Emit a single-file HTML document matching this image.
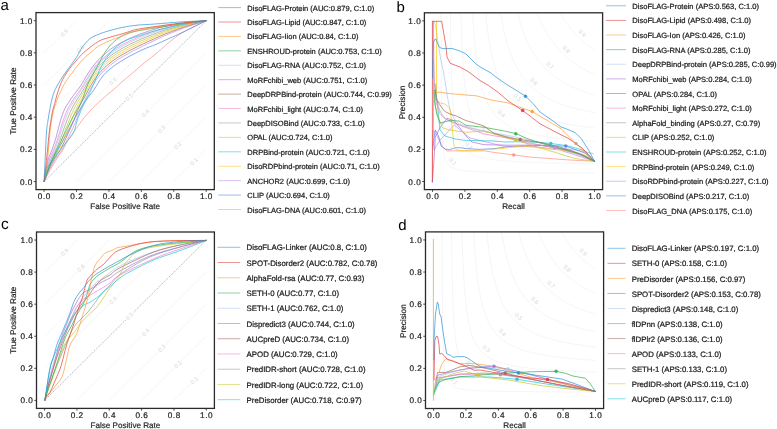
<!DOCTYPE html>
<html><head><meta charset="utf-8"><style>
html,body{margin:0;padding:0;background:#fff;}
body{width:777px;height:429px;overflow:hidden;font-family:"Liberation Sans", sans-serif;}
svg{display:block;text-rendering:geometricPrecision;filter:blur(0.3px);}
</style></head><body>
<svg width="777" height="429" viewBox="0 0 777 429" font-family='Liberation Sans, sans-serif'>
<rect width="777" height="429" fill="#fff"/>
<line x1="173.78" y1="181.55" x2="206.2" y2="149.37" stroke="#f2f2f2" stroke-width="0.8"/>
<text x="194.04" y="161.44" font-size="5.8" fill="#d4d4d4" text-anchor="middle" transform="rotate(-45 194.04 161.44)" dy="2.0" stroke="#fff" stroke-width="2.6" paint-order="stroke">0.1</text>
<line x1="141.36" y1="181.55" x2="206.2" y2="117.19" stroke="#f2f2f2" stroke-width="0.8"/>
<text x="177.83" y="145.35" font-size="5.8" fill="#d4d4d4" text-anchor="middle" transform="rotate(-45 177.83 145.35)" dy="2.0" stroke="#fff" stroke-width="2.6" paint-order="stroke">0.2</text>
<line x1="108.94" y1="181.55" x2="206.2" y2="85.01" stroke="#f2f2f2" stroke-width="0.8"/>
<text x="161.62" y="129.26" font-size="5.8" fill="#d4d4d4" text-anchor="middle" transform="rotate(-45 161.62 129.26)" dy="2.0" stroke="#fff" stroke-width="2.6" paint-order="stroke">0.3</text>
<line x1="76.52" y1="181.55" x2="206.2" y2="52.83" stroke="#f2f2f2" stroke-width="0.8"/>
<text x="145.41" y="113.17" font-size="5.8" fill="#d4d4d4" text-anchor="middle" transform="rotate(-45 145.41 113.17)" dy="2.0" stroke="#fff" stroke-width="2.6" paint-order="stroke">0.4</text>
<line x1="44.1" y1="149.37" x2="173.78" y2="20.65" stroke="#f2f2f2" stroke-width="0.8"/>
<text x="112.99" y="80.99" font-size="5.8" fill="#d4d4d4" text-anchor="middle" transform="rotate(-45 112.99 80.99)" dy="2.0" stroke="#fff" stroke-width="2.6" paint-order="stroke">0.6</text>
<line x1="44.1" y1="117.19" x2="141.36" y2="20.65" stroke="#f2f2f2" stroke-width="0.8"/>
<text x="96.78" y="64.9" font-size="5.8" fill="#d4d4d4" text-anchor="middle" transform="rotate(-45 96.78 64.9)" dy="2.0" stroke="#fff" stroke-width="2.6" paint-order="stroke">0.7</text>
<line x1="44.1" y1="85.01" x2="108.94" y2="20.65" stroke="#f2f2f2" stroke-width="0.8"/>
<text x="80.57" y="48.8" font-size="5.8" fill="#d4d4d4" text-anchor="middle" transform="rotate(-45 80.57 48.8)" dy="2.0" stroke="#fff" stroke-width="2.6" paint-order="stroke">0.8</text>
<line x1="44.1" y1="52.83" x2="76.52" y2="20.65" stroke="#f2f2f2" stroke-width="0.8"/>
<text x="64.37" y="32.71" font-size="5.8" fill="#d4d4d4" text-anchor="middle" transform="rotate(-45 64.37 32.71)" dy="2.0" stroke="#fff" stroke-width="2.6" paint-order="stroke">0.9</text>
<line x1="173.97" y1="400.38" x2="206.31" y2="368.31" stroke="#f2f2f2" stroke-width="0.8"/>
<text x="194.18" y="380.34" font-size="5.8" fill="#d4d4d4" text-anchor="middle" transform="rotate(-45 194.18 380.34)" dy="2.0" stroke="#fff" stroke-width="2.6" paint-order="stroke">0.1</text>
<line x1="141.62" y1="400.38" x2="206.31" y2="336.24" stroke="#f2f2f2" stroke-width="0.8"/>
<text x="178.01" y="364.3" font-size="5.8" fill="#d4d4d4" text-anchor="middle" transform="rotate(-45 178.01 364.3)" dy="2.0" stroke="#fff" stroke-width="2.6" paint-order="stroke">0.2</text>
<line x1="109.28" y1="400.38" x2="206.31" y2="304.16" stroke="#f2f2f2" stroke-width="0.8"/>
<text x="161.84" y="348.26" font-size="5.8" fill="#d4d4d4" text-anchor="middle" transform="rotate(-45 161.84 348.26)" dy="2.0" stroke="#fff" stroke-width="2.6" paint-order="stroke">0.3</text>
<line x1="76.93" y1="400.38" x2="206.31" y2="272.09" stroke="#f2f2f2" stroke-width="0.8"/>
<text x="145.67" y="332.23" font-size="5.8" fill="#d4d4d4" text-anchor="middle" transform="rotate(-45 145.67 332.23)" dy="2.0" stroke="#fff" stroke-width="2.6" paint-order="stroke">0.4</text>
<line x1="44.59" y1="368.31" x2="173.97" y2="240.02" stroke="#f2f2f2" stroke-width="0.8"/>
<text x="113.32" y="300.15" font-size="5.8" fill="#d4d4d4" text-anchor="middle" transform="rotate(-45 113.32 300.15)" dy="2.0" stroke="#fff" stroke-width="2.6" paint-order="stroke">0.6</text>
<line x1="44.59" y1="336.24" x2="141.62" y2="240.02" stroke="#f2f2f2" stroke-width="0.8"/>
<text x="97.15" y="284.12" font-size="5.8" fill="#d4d4d4" text-anchor="middle" transform="rotate(-45 97.15 284.12)" dy="2.0" stroke="#fff" stroke-width="2.6" paint-order="stroke">0.7</text>
<line x1="44.59" y1="304.16" x2="109.28" y2="240.02" stroke="#f2f2f2" stroke-width="0.8"/>
<text x="80.97" y="268.08" font-size="5.8" fill="#d4d4d4" text-anchor="middle" transform="rotate(-45 80.97 268.08)" dy="2.0" stroke="#fff" stroke-width="2.6" paint-order="stroke">0.8</text>
<line x1="44.59" y1="272.09" x2="76.93" y2="240.02" stroke="#f2f2f2" stroke-width="0.8"/>
<text x="64.8" y="252.05" font-size="5.8" fill="#d4d4d4" text-anchor="middle" transform="rotate(-45 64.8 252.05)" dy="2.0" stroke="#fff" stroke-width="2.6" paint-order="stroke">0.9</text>
<path d="M441,12.8 L441.22,69.26 L441.67,112.68 L442.28,134.71 L443.02,146.63 L443.89,153.71 L444.86,158.25 L445.94,161.34 L447.11,163.53 L448.38,165.16 L449.74,166.4 L451.17,167.37 L452.69,168.14 L454.29,168.77 L455.96,169.29 L457.71,169.72 L459.53,170.09 L461.41,170.4 L463.37,170.67 L465.39,170.9 L467.47,171.1 L469.62,171.28 L471.83,171.44 L474.1,171.58 L476.44,171.71 L478.83,171.82 L481.28,171.93 L483.78,172.02 L486.35,172.1 L488.97,172.18 L491.64,172.25 L494.37,172.32 L497.15,172.38 L499.98,172.43 L502.87,172.48 L505.8,172.53 L508.79,172.57 L511.83,172.61 L514.92,172.65 L518.05,172.69 L521.24,172.72 L524.47,172.75 L527.75,172.78 L531.08,172.81 L534.45,172.83 L537.88,172.86 L541.34,172.88 L544.86,172.9 L548.41,172.92 L552.02,172.94 L555.66,172.96 L559.35,172.98 L563.09,173 L566.87,173.01 L570.69,173.03 L574.55,173.04 L578.46,173.06 L582.41,173.07 L586.4,173.08 L590.43,173.09 L594.5,173.1" fill="none" stroke="#f2f2f2" stroke-width="0.8"/>
<path d="M450.41,12.8 L450.61,29.25 L451.03,53.71 L451.6,75.68 L452.3,93.11 L453.11,106.43 L454.02,116.59 L455.04,124.4 L456.14,130.5 L457.33,135.32 L458.6,139.19 L459.95,142.35 L461.38,144.95 L462.88,147.12 L464.45,148.96 L466.09,150.51 L467.79,151.85 L469.56,153.01 L471.4,154.02 L473.29,154.9 L475.25,155.68 L477.27,156.38 L479.34,156.99 L481.48,157.55 L483.67,158.04 L485.91,158.49 L488.21,158.9 L490.56,159.27 L492.97,159.61 L495.43,159.92 L497.94,160.2 L500.5,160.46 L503.11,160.71 L505.77,160.93 L508.48,161.14 L511.23,161.33 L514.04,161.51 L516.89,161.67 L519.79,161.83 L522.73,161.97 L525.72,162.11 L528.76,162.24 L531.84,162.36 L534.96,162.47 L538.13,162.58 L541.34,162.68 L544.6,162.78 L547.9,162.87 L551.24,162.95 L554.62,163.03 L558.04,163.11 L561.51,163.18 L565.01,163.25 L568.56,163.32 L572.15,163.38 L575.77,163.44 L579.44,163.5 L583.15,163.55 L586.89,163.61 L590.68,163.66 L594.5,163.71" fill="none" stroke="#f2f2f2" stroke-width="0.8"/>
<path d="M460.85,12.8 L461.04,19.31 L461.43,30.89 L461.96,43.86 L462.6,56.53 L463.36,68.12 L464.21,78.36 L465.15,87.26 L466.17,94.93 L467.27,101.51 L468.45,107.18 L469.7,112.05 L471.03,116.28 L472.42,119.94 L473.87,123.14 L475.39,125.95 L476.98,128.42 L478.62,130.6 L480.32,132.55 L482.08,134.28 L483.89,135.83 L485.77,137.23 L487.69,138.49 L489.67,139.63 L491.7,140.67 L493.78,141.61 L495.92,142.48 L498.1,143.27 L500.33,144 L502.61,144.67 L504.94,145.28 L507.31,145.86 L509.73,146.39 L512.2,146.88 L514.71,147.34 L517.27,147.77 L519.87,148.17 L522.52,148.54 L525.2,148.89 L527.94,149.22 L530.71,149.53 L533.52,149.82 L536.38,150.09 L539.28,150.35 L542.22,150.6 L545.2,150.83 L548.22,151.05 L551.27,151.25 L554.37,151.45 L557.51,151.64 L560.68,151.82 L563.9,151.98 L567.15,152.15 L570.44,152.3 L573.77,152.45 L577.13,152.59 L580.53,152.72 L583.97,152.85 L587.44,152.97 L590.95,153.09 L594.5,153.2" fill="none" stroke="#f2f2f2" stroke-width="0.8"/>
<path d="M472.52,12.8 L472.7,15.85 L473.05,21.65 L473.53,28.79 L474.13,36.52 L474.81,44.34 L475.59,51.97 L476.44,59.2 L477.38,65.95 L478.39,72.18 L479.46,77.89 L480.6,83.1 L481.81,87.83 L483.08,92.13 L484.41,96.03 L485.8,99.58 L487.24,102.8 L488.74,105.73 L490.29,108.4 L491.9,110.84 L493.56,113.07 L495.26,115.12 L497.02,116.99 L498.83,118.72 L500.68,120.31 L502.58,121.78 L504.53,123.13 L506.52,124.39 L508.56,125.56 L510.64,126.65 L512.76,127.66 L514.93,128.6 L517.14,129.48 L519.39,130.3 L521.68,131.08 L524.02,131.8 L526.39,132.48 L528.8,133.12 L531.26,133.72 L533.75,134.29 L536.28,134.83 L538.85,135.33 L541.46,135.81 L544.1,136.27 L546.78,136.7 L549.5,137.11 L552.26,137.5 L555.05,137.87 L557.88,138.22 L560.74,138.55 L563.64,138.87 L566.57,139.17 L569.54,139.46 L572.54,139.74 L575.58,140.01 L578.65,140.26 L581.75,140.51 L584.89,140.74 L588.06,140.96 L591.26,141.18 L594.5,141.38" fill="none" stroke="#f2f2f2" stroke-width="0.8"/>
<path d="M485.66,12.8 L485.81,14.36 L486.13,17.42 L486.56,21.35 L487.09,25.85 L487.7,30.67 L488.39,35.64 L489.16,40.65 L489.99,45.59 L490.89,50.4 L491.85,55.04 L492.87,59.47 L493.94,63.68 L495.08,67.67 L496.26,71.43 L497.5,74.96 L498.79,78.28 L500.13,81.39 L501.51,84.31 L502.95,87.04 L504.42,89.59 L505.95,91.99 L507.52,94.23 L509.13,96.34 L510.78,98.31 L512.48,100.16 L514.21,101.9 L515.99,103.53 L517.81,105.06 L519.67,106.51 L521.56,107.87 L523.5,109.15 L525.47,110.36 L527.48,111.51 L529.52,112.59 L531.6,113.61 L533.72,114.58 L535.88,115.5 L538.07,116.37 L540.29,117.2 L542.55,117.98 L544.84,118.73 L547.17,119.44 L549.53,120.12 L551.92,120.76 L554.35,121.38 L556.81,121.96 L559.3,122.52 L561.82,123.06 L564.37,123.57 L566.96,124.06 L569.58,124.53 L572.23,124.98 L574.91,125.41 L577.61,125.83 L580.35,126.22 L583.12,126.6 L585.92,126.97 L588.75,127.32 L591.61,127.66 L594.5,127.99" fill="none" stroke="#f2f2f2" stroke-width="0.8"/>
<path d="M500.54,12.8 L500.67,13.63 L500.95,15.27 L501.32,17.44 L501.77,19.99 L502.3,22.82 L502.9,25.85 L503.56,29.01 L504.28,32.25 L505.06,35.52 L505.88,38.79 L506.76,42.04 L507.69,45.23 L508.67,48.35 L509.7,51.4 L510.76,54.35 L511.88,57.2 L513.03,59.96 L514.23,62.61 L515.46,65.15 L516.74,67.6 L518.06,69.94 L519.41,72.18 L520.8,74.32 L522.23,76.37 L523.69,78.33 L525.19,80.2 L526.73,81.99 L528.3,83.69 L529.9,85.32 L531.54,86.88 L533.2,88.37 L534.91,89.79 L536.64,91.15 L538.41,92.45 L540.21,93.7 L542.03,94.89 L543.89,96.03 L545.78,97.12 L547.7,98.16 L549.65,99.16 L551.63,100.12 L553.64,101.04 L555.68,101.92 L557.74,102.77 L559.84,103.58 L561.96,104.36 L564.11,105.12 L566.29,105.84 L568.49,106.53 L570.73,107.2 L572.99,107.84 L575.27,108.46 L577.58,109.06 L579.92,109.63 L582.29,110.19 L584.68,110.72 L587.1,111.24 L589.54,111.74 L592.01,112.22 L594.5,112.68" fill="none" stroke="#f2f2f2" stroke-width="0.8"/>
<path d="M517.55,12.8 L517.66,13.23 L517.88,14.11 L518.19,15.27 L518.56,16.67 L518.99,18.25 L519.48,19.98 L520.02,21.83 L520.61,23.77 L521.25,25.78 L521.93,27.85 L522.65,29.95 L523.41,32.07 L524.21,34.2 L525.05,36.33 L525.92,38.45 L526.83,40.56 L527.78,42.63 L528.76,44.68 L529.77,46.69 L530.82,48.67 L531.9,50.6 L533,52.49 L534.14,54.34 L535.31,56.14 L536.51,57.89 L537.74,59.6 L539,61.26 L540.28,62.87 L541.59,64.43 L542.93,65.95 L544.3,67.42 L545.7,68.85 L547.12,70.24 L548.56,71.58 L550.03,72.88 L551.53,74.14 L553.05,75.36 L554.6,76.54 L556.18,77.68 L557.77,78.79 L559.39,79.87 L561.04,80.91 L562.71,81.92 L564.4,82.89 L566.11,83.84 L567.85,84.75 L569.61,85.64 L571.4,86.5 L573.2,87.34 L575.03,88.15 L576.88,88.93 L578.75,89.69 L580.65,90.43 L582.56,91.15 L584.5,91.84 L586.46,92.51 L588.44,93.17 L590.44,93.8 L592.46,94.42 L594.5,95.02" fill="none" stroke="#f2f2f2" stroke-width="0.8"/>
<path d="M537.18,12.8 L537.26,13.01 L537.43,13.45 L537.65,14.03 L537.93,14.74 L538.25,15.54 L538.62,16.44 L539.02,17.41 L539.46,18.45 L539.93,19.55 L540.44,20.7 L540.97,21.88 L541.54,23.11 L542.14,24.36 L542.76,25.64 L543.41,26.93 L544.09,28.24 L544.8,29.56 L545.53,30.89 L546.28,32.22 L547.06,33.55 L547.86,34.88 L548.69,36.2 L549.54,37.52 L550.41,38.83 L551.3,40.13 L552.22,41.41 L553.15,42.68 L554.11,43.94 L555.09,45.18 L556.09,46.41 L557.11,47.61 L558.14,48.8 L559.2,49.97 L560.28,51.12 L561.38,52.26 L562.49,53.37 L563.63,54.46 L564.78,55.53 L565.95,56.59 L567.14,57.62 L568.35,58.63 L569.57,59.63 L570.82,60.6 L572.08,61.56 L573.35,62.49 L574.65,63.41 L575.96,64.31 L577.29,65.19 L578.63,66.05 L580,66.89 L581.37,67.72 L582.77,68.53 L584.18,69.32 L585.61,70.1 L587.05,70.85 L588.51,71.6 L589.98,72.32 L591.47,73.03 L592.98,73.73 L594.5,74.41" fill="none" stroke="#f2f2f2" stroke-width="0.8"/>
<path d="M560.08,12.8 L560.12,12.89 L560.22,13.06 L560.36,13.3 L560.53,13.59 L560.72,13.93 L560.94,14.3 L561.18,14.71 L561.45,15.16 L561.73,15.63 L562.03,16.13 L562.36,16.66 L562.7,17.21 L563.05,17.78 L563.43,18.37 L563.82,18.98 L564.23,19.61 L564.65,20.25 L565.09,20.9 L565.54,21.57 L566.01,22.24 L566.49,22.93 L566.99,23.63 L567.5,24.33 L568.02,25.04 L568.56,25.75 L569.11,26.47 L569.67,27.2 L570.24,27.92 L570.83,28.65 L571.43,29.39 L572.04,30.12 L572.67,30.85 L573.3,31.59 L573.95,32.32 L574.61,33.05 L575.28,33.78 L575.96,34.51 L576.65,35.24 L577.35,35.96 L578.07,36.68 L578.79,37.4 L579.53,38.11 L580.28,38.82 L581.03,39.52 L581.8,40.22 L582.58,40.92 L583.37,41.61 L584.16,42.29 L584.97,42.97 L585.79,43.65 L586.62,44.32 L587.46,44.98 L588.3,45.64 L589.16,46.29 L590.03,46.93 L590.9,47.57 L591.79,48.2 L592.68,48.83 L593.59,49.45 L594.5,50.06" fill="none" stroke="#f2f2f2" stroke-width="0.8"/>
<text x="452.75" y="161.79" font-size="5.8" fill="#d4d4d4" text-anchor="middle" transform="rotate(45 452.75 161.79)" dy="2.0" stroke="#fff" stroke-width="2.6" paint-order="stroke">0.1</text>
<text x="468.95" y="145.72" font-size="5.8" fill="#d4d4d4" text-anchor="middle" transform="rotate(45 468.95 145.72)" dy="2.0" stroke="#fff" stroke-width="2.6" paint-order="stroke">0.2</text>
<text x="485.15" y="129.65" font-size="5.8" fill="#d4d4d4" text-anchor="middle" transform="rotate(45 485.15 129.65)" dy="2.0" stroke="#fff" stroke-width="2.6" paint-order="stroke">0.3</text>
<text x="501.35" y="113.58" font-size="5.8" fill="#d4d4d4" text-anchor="middle" transform="rotate(45 501.35 113.58)" dy="2.0" stroke="#fff" stroke-width="2.6" paint-order="stroke">0.4</text>
<text x="517.55" y="97.5" font-size="5.8" fill="#d4d4d4" text-anchor="middle" transform="rotate(45 517.55 97.5)" dy="2.0" stroke="#fff" stroke-width="2.6" paint-order="stroke">0.5</text>
<text x="533.75" y="81.43" font-size="5.8" fill="#d4d4d4" text-anchor="middle" transform="rotate(45 533.75 81.43)" dy="2.0" stroke="#fff" stroke-width="2.6" paint-order="stroke">0.6</text>
<text x="549.95" y="65.36" font-size="5.8" fill="#d4d4d4" text-anchor="middle" transform="rotate(45 549.95 65.36)" dy="2.0" stroke="#fff" stroke-width="2.6" paint-order="stroke">0.7</text>
<text x="566.15" y="49.29" font-size="5.8" fill="#d4d4d4" text-anchor="middle" transform="rotate(45 566.15 49.29)" dy="2.0" stroke="#fff" stroke-width="2.6" paint-order="stroke">0.8</text>
<text x="582.35" y="33.21" font-size="5.8" fill="#d4d4d4" text-anchor="middle" transform="rotate(45 582.35 33.21)" dy="2.0" stroke="#fff" stroke-width="2.6" paint-order="stroke">0.9</text>
<path d="M442.1,231.9 L442.31,288.3 L442.76,331.67 L443.37,353.67 L444.11,365.58 L444.97,372.65 L445.95,377.18 L447.03,380.27 L448.2,382.46 L449.47,384.09 L450.82,385.33 L452.26,386.3 L453.78,387.07 L455.37,387.7 L457.04,388.21 L458.79,388.64 L460.61,389.01 L462.49,389.32 L464.44,389.59 L466.46,389.82 L468.55,390.03 L470.7,390.2 L472.91,390.36 L475.18,390.5 L477.51,390.63 L479.9,390.74 L482.35,390.85 L484.85,390.94 L487.41,391.02 L490.03,391.1 L492.7,391.17 L495.43,391.24 L498.21,391.3 L501.04,391.35 L503.92,391.4 L506.86,391.45 L509.84,391.49 L512.88,391.53 L515.96,391.57 L519.1,391.61 L522.28,391.64 L525.51,391.67 L528.79,391.7 L532.12,391.73 L535.49,391.75 L538.91,391.78 L542.38,391.8 L545.89,391.82 L549.44,391.84 L553.04,391.86 L556.69,391.88 L560.38,391.9 L564.11,391.91 L567.89,391.93 L571.71,391.95 L575.57,391.96 L579.47,391.97 L583.42,391.99 L587.4,392 L591.43,392.01 L595.5,392.02" fill="none" stroke="#f2f2f2" stroke-width="0.8"/>
<path d="M451.49,231.9 L451.7,248.33 L452.11,272.76 L452.68,294.71 L453.38,312.12 L454.19,325.43 L455.11,335.57 L456.12,343.38 L457.22,349.46 L458.41,354.28 L459.68,358.15 L461.03,361.3 L462.46,363.9 L463.96,366.07 L465.52,367.9 L467.16,369.46 L468.87,370.79 L470.64,371.95 L472.47,372.96 L474.37,373.84 L476.32,374.62 L478.34,375.31 L480.41,375.93 L482.55,376.48 L484.73,376.98 L486.98,377.43 L489.28,377.84 L491.63,378.21 L494.03,378.54 L496.49,378.85 L499,379.14 L501.56,379.4 L504.17,379.64 L506.82,379.86 L509.53,380.07 L512.29,380.26 L515.09,380.44 L517.94,380.6 L520.84,380.76 L523.78,380.91 L526.77,381.04 L529.8,381.17 L532.88,381.29 L536,381.4 L539.17,381.51 L542.38,381.61 L545.63,381.71 L548.93,381.8 L552.26,381.88 L555.64,381.96 L559.07,382.04 L562.53,382.11 L566.03,382.18 L569.58,382.25 L573.16,382.31 L576.79,382.37 L580.45,382.43 L584.16,382.48 L587.9,382.54 L591.68,382.59 L595.5,382.63" fill="none" stroke="#f2f2f2" stroke-width="0.8"/>
<path d="M461.93,231.9 L462.12,238.41 L462.51,249.97 L463.04,262.93 L463.68,275.58 L464.44,287.15 L465.28,297.39 L466.22,306.28 L467.25,313.93 L468.35,320.51 L469.53,326.17 L470.78,331.04 L472.1,335.26 L473.49,338.92 L474.95,342.12 L476.47,344.92 L478.05,347.39 L479.69,349.57 L481.39,351.51 L483.15,353.24 L484.96,354.79 L486.83,356.19 L488.76,357.45 L490.73,358.59 L492.76,359.62 L494.84,360.57 L496.98,361.43 L499.16,362.22 L501.39,362.95 L503.67,363.62 L505.99,364.23 L508.37,364.81 L510.79,365.34 L513.25,365.83 L515.76,366.29 L518.32,366.71 L520.92,367.11 L523.56,367.49 L526.25,367.84 L528.98,368.16 L531.75,368.47 L534.56,368.76 L537.42,369.04 L540.31,369.3 L543.25,369.54 L546.23,369.77 L549.25,369.99 L552.3,370.2 L555.4,370.39 L558.53,370.58 L561.71,370.76 L564.92,370.93 L568.17,371.09 L571.46,371.24 L574.78,371.39 L578.14,371.53 L581.54,371.66 L584.98,371.79 L588.45,371.91 L591.96,372.03 L595.5,372.14" fill="none" stroke="#f2f2f2" stroke-width="0.8"/>
<path d="M473.6,231.9 L473.77,234.95 L474.12,240.74 L474.61,247.87 L475.2,255.59 L475.88,263.41 L476.66,271.02 L477.52,278.25 L478.45,284.99 L479.45,291.22 L480.53,296.92 L481.67,302.12 L482.88,306.85 L484.15,311.14 L485.48,315.04 L486.86,318.58 L488.31,321.8 L489.8,324.73 L491.36,327.39 L492.96,329.83 L494.62,332.06 L496.32,334.1 L498.08,335.98 L499.88,337.7 L501.74,339.29 L503.64,340.75 L505.58,342.11 L507.57,343.37 L509.61,344.53 L511.69,345.62 L513.81,346.63 L515.98,347.57 L518.19,348.45 L520.44,349.27 L522.73,350.04 L525.06,350.77 L527.43,351.44 L529.85,352.08 L532.3,352.69 L534.79,353.25 L537.32,353.79 L539.89,354.3 L542.49,354.77 L545.14,355.23 L547.82,355.66 L550.53,356.07 L553.29,356.45 L556.08,356.82 L558.9,357.17 L561.76,357.51 L564.66,357.83 L567.59,358.13 L570.56,358.42 L573.56,358.7 L576.59,358.96 L579.66,359.22 L582.76,359.46 L585.9,359.69 L589.07,359.92 L592.27,360.13 L595.5,360.34" fill="none" stroke="#f2f2f2" stroke-width="0.8"/>
<path d="M486.72,231.9 L486.88,233.46 L487.19,236.51 L487.62,240.44 L488.15,244.93 L488.76,249.75 L489.45,254.72 L490.22,259.72 L491.05,264.65 L491.95,269.46 L492.91,274.09 L493.93,278.52 L495.01,282.72 L496.14,286.71 L497.32,290.46 L498.56,293.99 L499.85,297.3 L501.18,300.41 L502.57,303.33 L504,306.05 L505.48,308.61 L507,311 L508.57,313.24 L510.18,315.34 L511.83,317.31 L513.53,319.16 L515.26,320.9 L517.04,322.53 L518.86,324.06 L520.71,325.5 L522.61,326.86 L524.54,328.14 L526.51,329.35 L528.52,330.5 L530.56,331.58 L532.64,332.6 L534.76,333.57 L536.91,334.48 L539.1,335.35 L541.33,336.18 L543.58,336.96 L545.87,337.71 L548.2,338.42 L550.56,339.1 L552.95,339.74 L555.37,340.35 L557.83,340.94 L560.32,341.5 L562.84,342.04 L565.4,342.55 L567.98,343.04 L570.6,343.51 L573.24,343.95 L575.92,344.39 L578.63,344.8 L581.37,345.19 L584.14,345.58 L586.93,345.94 L589.76,346.29 L592.62,346.63 L595.5,346.96" fill="none" stroke="#f2f2f2" stroke-width="0.8"/>
<path d="M501.6,231.9 L501.73,232.73 L502,234.37 L502.38,236.54 L502.83,239.09 L503.36,241.91 L503.96,244.94 L504.62,248.09 L505.33,251.33 L506.11,254.6 L506.94,257.86 L507.82,261.1 L508.75,264.29 L509.72,267.41 L510.75,270.45 L511.82,273.4 L512.93,276.25 L514.08,279 L515.28,281.65 L516.51,284.19 L517.79,286.63 L519.1,288.97 L520.46,291.21 L521.85,293.35 L523.27,295.4 L524.74,297.35 L526.24,299.22 L527.77,301.01 L529.34,302.71 L530.94,304.34 L532.58,305.9 L534.24,307.39 L535.94,308.81 L537.68,310.16 L539.44,311.46 L541.24,312.71 L543.07,313.89 L544.93,315.03 L546.82,316.12 L548.73,317.16 L550.68,318.16 L552.66,319.12 L554.67,320.04 L556.7,320.92 L558.77,321.77 L560.86,322.58 L562.98,323.36 L565.13,324.11 L567.31,324.83 L569.51,325.53 L571.74,326.19 L574,326.83 L576.29,327.45 L578.6,328.05 L580.94,328.62 L583.3,329.18 L585.69,329.71 L588.11,330.23 L590.55,330.72 L593.01,331.2 L595.5,331.67" fill="none" stroke="#f2f2f2" stroke-width="0.8"/>
<path d="M518.6,231.9 L518.71,232.33 L518.93,233.21 L519.23,234.37 L519.61,235.77 L520.04,237.35 L520.53,239.07 L521.07,240.92 L521.66,242.86 L522.29,244.87 L522.97,246.93 L523.69,249.03 L524.45,251.15 L525.25,253.28 L526.09,255.41 L526.97,257.52 L527.88,259.62 L528.82,261.7 L529.8,263.75 L530.81,265.76 L531.86,267.73 L532.94,269.66 L534.04,271.55 L535.18,273.39 L536.35,275.19 L537.55,276.94 L538.78,278.64 L540.03,280.3 L541.32,281.91 L542.63,283.47 L543.97,284.99 L545.33,286.46 L546.73,287.89 L548.15,289.27 L549.59,290.61 L551.06,291.91 L552.56,293.17 L554.08,294.39 L555.63,295.57 L557.2,296.71 L558.8,297.82 L560.42,298.89 L562.06,299.93 L563.73,300.94 L565.42,301.91 L567.13,302.86 L568.87,303.77 L570.63,304.66 L572.41,305.52 L574.22,306.35 L576.05,307.16 L577.9,307.95 L579.77,308.7 L581.66,309.44 L583.57,310.16 L585.51,310.85 L587.47,311.52 L589.44,312.18 L591.44,312.81 L593.46,313.43 L595.5,314.03" fill="none" stroke="#f2f2f2" stroke-width="0.8"/>
<path d="M538.21,231.9 L538.3,232.11 L538.46,232.55 L538.69,233.13 L538.97,233.83 L539.29,234.64 L539.65,235.54 L540.06,236.51 L540.49,237.55 L540.97,238.64 L541.47,239.79 L542.01,240.97 L542.58,242.2 L543.17,243.45 L543.8,244.72 L544.45,246.02 L545.13,247.32 L545.83,248.64 L546.56,249.97 L547.31,251.3 L548.09,252.63 L548.89,253.96 L549.72,255.28 L550.57,256.59 L551.44,257.9 L552.33,259.2 L553.25,260.48 L554.18,261.75 L555.14,263 L556.11,264.24 L557.11,265.47 L558.13,266.67 L559.17,267.86 L560.23,269.03 L561.3,270.18 L562.4,271.31 L563.51,272.42 L564.65,273.51 L565.8,274.59 L566.97,275.64 L568.16,276.67 L569.37,277.68 L570.59,278.68 L571.83,279.65 L573.09,280.6 L574.37,281.54 L575.66,282.45 L576.98,283.35 L578.3,284.23 L579.65,285.09 L581.01,285.93 L582.39,286.76 L583.78,287.57 L585.19,288.36 L586.62,289.13 L588.06,289.89 L589.52,290.63 L590.99,291.36 L592.48,292.07 L593.98,292.76 L595.5,293.44" fill="none" stroke="#f2f2f2" stroke-width="0.8"/>
<path d="M561.1,231.9 L561.15,231.99 L561.25,232.16 L561.38,232.4 L561.55,232.69 L561.74,233.02 L561.96,233.4 L562.2,233.81 L562.47,234.25 L562.75,234.73 L563.06,235.23 L563.38,235.76 L563.72,236.31 L564.08,236.88 L564.45,237.47 L564.84,238.08 L565.25,238.7 L565.67,239.34 L566.11,239.99 L566.56,240.66 L567.03,241.33 L567.51,242.02 L568.01,242.71 L568.52,243.42 L569.04,244.12 L569.58,244.84 L570.13,245.56 L570.69,246.28 L571.26,247.01 L571.85,247.74 L572.45,248.47 L573.06,249.2 L573.68,249.93 L574.32,250.66 L574.96,251.4 L575.62,252.13 L576.29,252.86 L576.97,253.58 L577.67,254.31 L578.37,255.03 L579.08,255.75 L579.81,256.47 L580.54,257.18 L581.29,257.89 L582.05,258.59 L582.81,259.29 L583.59,259.99 L584.38,260.68 L585.17,261.36 L585.98,262.04 L586.8,262.71 L587.63,263.38 L588.46,264.04 L589.31,264.7 L590.17,265.35 L591.03,265.99 L591.91,266.63 L592.79,267.26 L593.69,267.89 L594.59,268.51 L595.5,269.12" fill="none" stroke="#f2f2f2" stroke-width="0.8"/>
<text x="453.83" y="380.73" font-size="5.8" fill="#d4d4d4" text-anchor="middle" transform="rotate(45 453.83 380.73)" dy="2.0" stroke="#fff" stroke-width="2.6" paint-order="stroke">0.1</text>
<text x="470.02" y="364.67" font-size="5.8" fill="#d4d4d4" text-anchor="middle" transform="rotate(45 470.02 364.67)" dy="2.0" stroke="#fff" stroke-width="2.6" paint-order="stroke">0.2</text>
<text x="486.22" y="348.62" font-size="5.8" fill="#d4d4d4" text-anchor="middle" transform="rotate(45 486.22 348.62)" dy="2.0" stroke="#fff" stroke-width="2.6" paint-order="stroke">0.3</text>
<text x="502.41" y="332.56" font-size="5.8" fill="#d4d4d4" text-anchor="middle" transform="rotate(45 502.41 332.56)" dy="2.0" stroke="#fff" stroke-width="2.6" paint-order="stroke">0.4</text>
<text x="518.6" y="316.51" font-size="5.8" fill="#d4d4d4" text-anchor="middle" transform="rotate(45 518.6 316.51)" dy="2.0" stroke="#fff" stroke-width="2.6" paint-order="stroke">0.5</text>
<text x="534.79" y="300.45" font-size="5.8" fill="#d4d4d4" text-anchor="middle" transform="rotate(45 534.79 300.45)" dy="2.0" stroke="#fff" stroke-width="2.6" paint-order="stroke">0.6</text>
<text x="550.98" y="284.4" font-size="5.8" fill="#d4d4d4" text-anchor="middle" transform="rotate(45 550.98 284.4)" dy="2.0" stroke="#fff" stroke-width="2.6" paint-order="stroke">0.7</text>
<text x="567.17" y="268.34" font-size="5.8" fill="#d4d4d4" text-anchor="middle" transform="rotate(45 567.17 268.34)" dy="2.0" stroke="#fff" stroke-width="2.6" paint-order="stroke">0.8</text>
<text x="583.36" y="252.29" font-size="5.8" fill="#d4d4d4" text-anchor="middle" transform="rotate(45 583.36 252.29)" dy="2.0" stroke="#fff" stroke-width="2.6" paint-order="stroke">0.9</text>
<line x1="44.1" y1="181.55" x2="206.2" y2="20.65" stroke="#999" stroke-width="0.7" stroke-dasharray="1.4,1.0"/>
<text x="129.2" y="97.08" font-size="5.8" fill="#d4d4d4" text-anchor="middle" transform="rotate(-45 129.2 97.08)" dy="2.0" stroke="#fff" stroke-width="2.6" paint-order="stroke">0.5</text>
<line x1="44.59" y1="400.38" x2="206.31" y2="240.02" stroke="#999" stroke-width="0.7" stroke-dasharray="1.4,1.0"/>
<text x="129.49" y="316.19" font-size="5.8" fill="#d4d4d4" text-anchor="middle" transform="rotate(-45 129.49 316.19)" dy="2.0" stroke="#fff" stroke-width="2.6" paint-order="stroke">0.5</text>
<path d="M44.1,181.55 C44.26,180.51 44.74,177.39 45.06,175.31 C45.38,173.23 45.64,171.13 46.03,169.07 C46.41,167 46.85,164.94 47.36,162.9 C47.87,160.86 48.37,158.81 49.08,156.82 C49.78,154.84 50.8,152.98 51.56,151.02 C52.33,149.06 52.97,147.05 53.65,145.06 C54.33,143.07 55.04,141.08 55.64,139.07 C56.25,137.05 56.73,135 57.26,132.96 C57.78,130.93 58.26,128.87 58.79,126.84 C59.32,124.8 59.82,122.75 60.42,120.74 C61.03,118.72 61.71,116.72 62.42,114.74 C63.13,112.77 63.76,110.75 64.68,108.87 C65.59,106.99 66.81,105.24 67.93,103.46 C69.04,101.67 70.17,99.89 71.37,98.17 C72.58,96.45 73.89,94.79 75.16,93.12 C76.44,91.44 77.8,89.83 79.03,88.12 C80.25,86.42 81.42,84.67 82.52,82.88 C83.61,81.09 84.52,79.18 85.59,77.36 C86.66,75.55 87.8,73.78 88.94,72.02 C90.09,70.25 91.21,68.46 92.47,66.78 C93.74,65.1 95.15,63.53 96.54,61.95 C97.93,60.38 99.29,58.77 100.82,57.32 C102.34,55.87 104.05,54.62 105.67,53.28 C107.29,51.93 108.83,50.48 110.52,49.23 C112.21,47.99 114.01,46.9 115.8,45.81 C117.6,44.71 119.43,43.67 121.27,42.65 C123.12,41.63 124.95,40.61 126.85,39.7 C128.74,38.79 130.71,38.02 132.65,37.19 C134.58,36.35 136.48,35.44 138.44,34.68 C140.4,33.91 142.4,33.25 144.39,32.57 C146.38,31.9 148.4,31.27 150.4,30.62 C152.4,29.97 154.39,29.27 156.4,28.67 C158.42,28.07 160.44,27.49 162.49,27 C164.53,26.52 166.62,26.18 168.68,25.76 C170.75,25.35 172.81,24.92 174.87,24.53 C176.94,24.13 179,23.69 181.08,23.38 C183.16,23.08 185.27,22.93 187.36,22.7 C189.46,22.47 191.55,22.24 193.64,22.02 C195.73,21.79 197.83,21.56 199.92,21.33 C202.01,21.11 205.15,20.76 206.2,20.65" fill="none" stroke="#a277d6" stroke-width="1.0" stroke-opacity="0.7" stroke-linejoin="round" stroke-linecap="round"/>
<path d="M44.1,181.55 C44.3,180.53 44.92,177.47 45.32,175.44 C45.73,173.4 46.08,171.34 46.55,169.32 C47.02,167.3 47.55,165.3 48.14,163.31 C48.74,161.32 49.34,159.32 50.11,157.39 C50.88,155.46 51.93,153.64 52.76,151.74 C53.6,149.84 54.38,147.92 55.12,145.98 C55.87,144.04 56.6,142.08 57.25,140.1 C57.91,138.13 58.47,136.12 59.06,134.13 C59.66,132.13 60.21,130.13 60.81,128.13 C61.4,126.14 61.97,124.13 62.62,122.15 C63.27,120.17 63.98,118.2 64.7,116.25 C65.43,114.3 66.08,112.31 66.96,110.43 C67.84,108.55 68.94,106.76 69.98,104.96 C71.03,103.16 72.11,101.38 73.25,99.64 C74.4,97.9 75.64,96.22 76.85,94.53 C78.06,92.83 79.34,91.18 80.5,89.46 C81.67,87.74 82.78,85.98 83.85,84.19 C84.92,82.4 85.85,80.52 86.92,78.73 C87.98,76.93 89.1,75.17 90.25,73.43 C91.4,71.68 92.53,69.92 93.8,68.27 C95.07,66.62 96.48,65.07 97.88,63.52 C99.27,61.98 100.66,60.41 102.18,59 C103.71,57.58 105.41,56.34 107.02,55.02 C108.64,53.69 110.19,52.28 111.88,51.06 C113.56,49.84 115.37,48.79 117.15,47.71 C118.93,46.63 120.75,45.59 122.58,44.58 C124.4,43.57 126.23,42.57 128.11,41.66 C129.99,40.75 131.93,39.96 133.83,39.11 C135.74,38.26 137.63,37.36 139.56,36.57 C141.49,35.78 143.46,35.08 145.42,34.37 C147.38,33.67 149.35,33 151.32,32.31 C153.29,31.62 155.25,30.89 157.23,30.24 C159.21,29.59 161.19,28.96 163.21,28.43 C165.22,27.89 167.26,27.48 169.29,27.01 C171.32,26.53 173.35,26.05 175.38,25.59 C177.41,25.13 179.43,24.62 181.48,24.25 C183.52,23.87 185.59,23.63 187.65,23.33 C189.71,23.03 191.77,22.74 193.84,22.44 C195.9,22.14 197.96,21.84 200.02,21.54 C202.08,21.25 205.17,20.8 206.2,20.65" fill="none" stroke="#ef82cc" stroke-width="1.0" stroke-opacity="0.7" stroke-linejoin="round" stroke-linecap="round"/>
<path d="M44.1,181.55 C44.36,180.56 45.15,177.59 45.67,175.61 C46.19,173.63 46.65,171.62 47.24,169.66 C47.83,167.7 48.48,165.77 49.19,163.85 C49.89,161.93 50.62,160.01 51.48,158.15 C52.35,156.29 53.43,154.52 54.36,152.7 C55.3,150.88 56.25,149.09 57.09,147.22 C57.93,145.35 58.67,143.41 59.4,141.48 C60.13,139.56 60.79,137.62 61.47,135.68 C62.15,133.74 62.81,131.8 63.49,129.86 C64.17,127.92 64.84,125.98 65.55,124.04 C66.26,122.11 67,120.18 67.75,118.26 C68.49,116.33 69.18,114.39 70.01,112.5 C70.84,110.62 71.77,108.79 72.73,106.97 C73.69,105.15 74.7,103.36 75.76,101.6 C76.83,99.84 77.98,98.13 79.1,96.4 C80.21,94.68 81.38,92.99 82.47,91.24 C83.56,89.5 84.59,87.72 85.63,85.93 C86.66,84.15 87.62,82.32 88.68,80.54 C89.74,78.77 90.84,77.02 91.99,75.31 C93.13,73.59 94.28,71.87 95.56,70.26 C96.84,68.64 98.25,67.12 99.66,65.62 C101.06,64.11 102.48,62.61 104.01,61.23 C105.54,59.85 107.21,58.63 108.83,57.34 C110.44,56.05 112,54.68 113.68,53.5 C115.37,52.32 117.17,51.3 118.94,50.25 C120.71,49.19 122.5,48.15 124.31,47.15 C126.12,46.15 127.94,45.18 129.79,44.27 C131.64,43.35 133.54,42.54 135.42,41.68 C137.29,40.81 139.15,39.9 141.05,39.09 C142.94,38.27 144.87,37.53 146.78,36.78 C148.7,36.02 150.63,35.3 152.56,34.56 C154.48,33.82 156.4,33.04 158.33,32.34 C160.26,31.63 162.2,30.94 164.16,30.32 C166.13,29.71 168.13,29.22 170.11,28.66 C172.09,28.11 174.07,27.55 176.05,27 C178.04,26.46 180.01,25.87 182.01,25.4 C184,24.93 186.03,24.58 188.04,24.18 C190.06,23.78 192.08,23.39 194.09,23 C196.11,22.61 198.13,22.22 200.15,21.83 C202.16,21.43 205.19,20.85 206.2,20.65" fill="none" stroke="#999999" stroke-width="1.0" stroke-opacity="0.7" stroke-linejoin="round" stroke-linecap="round"/>
<path d="M44.1,181.55 C44.4,180.58 45.28,177.65 45.87,175.71 C46.46,173.76 46.99,171.79 47.65,169.86 C48.3,167.94 49.02,166.04 49.8,164.16 C50.57,162.28 51.37,160.41 52.29,158.59 C53.2,156.77 54.31,155.04 55.3,153.26 C56.29,151.48 57.35,149.76 58.24,147.94 C59.13,146.11 59.88,144.18 60.65,142.29 C61.43,140.4 62.14,138.49 62.87,136.58 C63.61,134.68 64.33,132.77 65.06,130.87 C65.79,128.96 66.51,127.05 67.26,125.14 C68,123.24 68.77,121.33 69.52,119.43 C70.28,117.52 70.98,115.6 71.78,113.72 C72.58,111.84 73.42,109.97 74.33,108.14 C75.24,106.32 76.22,104.52 77.23,102.74 C78.24,100.97 79.34,99.24 80.41,97.5 C81.47,95.75 82.58,94.04 83.62,92.28 C84.66,90.52 85.65,88.73 86.67,86.95 C87.68,85.17 88.66,83.36 89.71,81.6 C90.77,79.85 91.86,78.1 93,76.4 C94.15,74.7 95.31,73.01 96.59,71.42 C97.87,69.82 99.28,68.32 100.69,66.84 C102.11,65.35 103.54,63.89 105.07,62.54 C106.6,61.18 108.27,59.96 109.88,58.69 C111.49,57.42 113.05,56.08 114.74,54.92 C116.42,53.76 118.23,52.77 119.99,51.73 C121.75,50.68 123.53,49.64 125.32,48.65 C127.12,47.66 128.93,46.7 130.77,45.79 C132.61,44.88 134.48,44.05 136.34,43.17 C138.2,42.3 140.04,41.39 141.91,40.56 C143.79,39.72 145.69,38.96 147.58,38.18 C149.48,37.4 151.38,36.64 153.28,35.87 C155.17,35.1 157.06,34.3 158.97,33.56 C160.88,32.82 162.79,32.09 164.72,31.43 C166.66,30.78 168.63,30.23 170.58,29.63 C172.54,29.03 174.49,28.42 176.45,27.83 C178.4,27.24 180.34,26.6 182.31,26.07 C184.28,25.55 186.28,25.13 188.27,24.67 C190.26,24.21 192.25,23.77 194.24,23.33 C196.24,22.88 198.23,22.44 200.22,21.99 C202.21,21.54 205.2,20.87 206.2,20.65" fill="none" stroke="#c8c832" stroke-width="1.0" stroke-opacity="0.7" stroke-linejoin="round" stroke-linecap="round"/>
<path d="M44.1,181.55 C44.43,180.59 45.42,177.72 46.07,175.81 C46.73,173.89 47.33,171.95 48.05,170.06 C48.77,168.17 49.56,166.32 50.4,164.48 C51.24,162.64 52.12,160.81 53.09,159.03 C54.06,157.26 55.18,155.55 56.23,153.82 C57.28,152.09 58.45,150.44 59.39,148.65 C60.34,146.87 61.09,144.96 61.91,143.1 C62.72,141.23 63.49,139.36 64.28,137.49 C65.07,135.62 65.85,133.75 66.63,131.87 C67.41,130 68.19,128.13 68.96,126.25 C69.74,124.37 70.53,122.48 71.3,120.6 C72.06,118.71 72.79,116.81 73.56,114.93 C74.33,113.05 75.07,111.16 75.93,109.32 C76.79,107.48 77.73,105.67 78.69,103.89 C79.66,102.1 80.71,100.35 81.72,98.59 C82.73,96.83 83.77,95.09 84.77,93.32 C85.77,91.55 86.71,89.74 87.7,87.97 C88.7,86.19 89.69,84.41 90.74,82.66 C91.79,80.92 92.87,79.18 94.02,77.5 C95.16,75.82 96.33,74.15 97.62,72.58 C98.9,71 100.31,69.51 101.73,68.06 C103.15,66.6 104.6,65.18 106.14,63.84 C107.67,62.5 109.32,61.29 110.93,60.04 C112.54,58.8 114.11,57.48 115.79,56.34 C117.48,55.2 119.28,54.24 121.04,53.21 C122.79,52.17 124.55,51.13 126.34,50.15 C128.12,49.17 129.93,48.22 131.75,47.31 C133.57,46.4 135.43,45.55 137.27,44.67 C139.11,43.79 140.93,42.88 142.78,42.03 C144.63,41.18 146.51,40.39 148.38,39.58 C150.25,38.77 152.12,37.98 154,37.18 C155.87,36.38 157.73,35.56 159.61,34.78 C161.49,34.01 163.37,33.24 165.28,32.54 C167.19,31.84 169.13,31.24 171.06,30.6 C172.99,29.95 174.91,29.3 176.84,28.66 C178.76,28.02 180.68,27.33 182.62,26.75 C184.56,26.16 186.53,25.67 188.49,25.16 C190.46,24.65 192.43,24.16 194.4,23.66 C196.36,23.16 198.33,22.65 200.3,22.15 C202.27,21.65 205.22,20.9 206.2,20.65" fill="none" stroke="#ffc61a" stroke-width="1.0" stroke-opacity="0.7" stroke-linejoin="round" stroke-linecap="round"/>
<path d="M44.1,181.55 C44.33,180.54 45.01,177.52 45.47,175.51 C45.92,173.49 46.32,171.46 46.84,169.46 C47.35,167.47 47.94,165.49 48.58,163.53 C49.22,161.57 49.87,159.61 50.68,157.71 C51.49,155.81 52.55,154.01 53.43,152.14 C54.31,150.27 55.16,148.41 55.94,146.5 C56.73,144.59 57.46,142.63 58.15,140.68 C58.84,138.72 59.44,136.74 60.07,134.77 C60.7,132.8 61.3,130.82 61.93,128.85 C62.55,126.88 63.16,124.9 63.84,122.94 C64.51,120.98 65.24,119.03 65.97,117.09 C66.7,115.14 67.37,113.18 68.23,111.29 C69.09,109.41 70.12,107.61 71.13,105.8 C72.14,103.99 73.19,102.21 74.3,100.46 C75.41,98.71 76.61,97.02 77.78,95.31 C78.96,93.6 80.19,91.93 81.32,90.2 C82.46,88.47 83.54,86.7 84.59,84.92 C85.65,83.13 86.59,81.27 87.65,79.48 C88.72,77.7 89.83,75.94 90.97,74.21 C92.12,72.48 93.26,70.73 94.53,69.1 C95.81,67.46 97.22,65.92 98.62,64.39 C100.02,62.87 101.42,61.33 102.94,59.93 C104.47,58.53 106.16,57.29 107.77,55.98 C109.39,54.68 110.94,53.28 112.63,52.08 C114.32,50.87 116.12,49.84 117.9,48.77 C119.67,47.69 121.48,46.65 123.3,45.65 C125.12,44.65 126.94,43.66 128.81,42.74 C130.68,41.83 132.6,41.03 134.49,40.18 C136.39,39.33 138.26,38.42 140.18,37.62 C142.09,36.82 144.04,36.1 145.99,35.38 C147.93,34.65 149.89,33.96 151.84,33.25 C153.79,32.54 155.73,31.79 157.69,31.11 C159.65,30.44 161.61,29.79 163.6,29.22 C165.59,28.65 167.62,28.2 169.63,27.7 C171.64,27.19 173.65,26.67 175.66,26.18 C177.67,25.68 179.67,25.14 181.7,24.73 C183.72,24.31 185.77,24.03 187.81,23.68 C189.86,23.34 191.9,23.01 193.94,22.67 C195.99,22.34 198.03,22 200.07,21.66 C202.11,21.32 205.18,20.82 206.2,20.65" fill="none" stroke="#aac8ec" stroke-width="1.0" stroke-opacity="0.7" stroke-linejoin="round" stroke-linecap="round"/>
<path d="M44.1,181.55 C44.47,180.61 45.56,177.79 46.29,175.91 C47.02,174.03 47.69,172.12 48.48,170.27 C49.28,168.42 50.14,166.61 51.06,164.82 C51.97,163.02 52.92,161.24 53.95,159.51 C54.98,157.77 56.12,156.1 57.23,154.42 C58.35,152.74 59.62,151.17 60.62,149.42 C61.62,147.68 62.39,145.79 63.25,143.96 C64.11,142.13 64.94,140.29 65.78,138.46 C66.63,136.62 67.47,134.79 68.31,132.95 C69.14,131.11 69.98,129.28 70.8,127.43 C71.61,125.58 72.42,123.72 73.2,121.85 C73.98,119.99 74.72,118.1 75.46,116.22 C76.2,114.34 76.85,112.42 77.65,110.57 C78.45,108.72 79.35,106.91 80.26,105.11 C81.18,103.31 82.17,101.55 83.12,99.77 C84.08,97.99 85.05,96.22 86,94.43 C86.95,92.65 87.84,90.83 88.81,89.06 C89.79,87.29 90.8,85.53 91.85,83.8 C92.89,82.07 93.96,80.34 95.1,78.67 C96.25,77.01 97.43,75.37 98.72,73.82 C100.01,72.27 101.42,70.79 102.84,69.36 C104.27,67.93 105.74,66.55 107.27,65.24 C108.81,63.93 110.45,62.72 112.06,61.5 C113.67,60.27 115.24,58.99 116.92,57.87 C118.61,56.75 120.41,55.81 122.16,54.79 C123.91,53.77 125.65,52.73 127.42,51.76 C129.19,50.78 130.99,49.86 132.8,48.94 C134.61,48.03 136.44,47.16 138.26,46.27 C140.08,45.38 141.88,44.47 143.71,43.6 C145.54,42.74 147.39,41.92 149.23,41.08 C151.08,40.25 152.92,39.42 154.77,38.59 C156.61,37.76 158.45,36.91 160.3,36.1 C162.15,35.28 164,34.47 165.88,33.72 C167.76,32.98 169.67,32.33 171.57,31.63 C173.47,30.94 175.36,30.24 177.26,29.54 C179.16,28.85 181.04,28.11 182.95,27.47 C184.86,26.82 186.8,26.26 188.74,25.69 C190.67,25.11 192.62,24.57 194.56,24.01 C196.5,23.45 198.44,22.89 200.38,22.33 C202.32,21.77 205.23,20.93 206.2,20.65" fill="none" stroke="#a0685a" stroke-width="1.0" stroke-opacity="0.7" stroke-linejoin="round" stroke-linecap="round"/>
<path d="M44.1,181.55 C44.5,180.63 45.71,177.86 46.51,176.02 C47.31,174.18 48.05,172.3 48.92,170.49 C49.78,168.68 50.73,166.9 51.71,165.15 C52.69,163.4 53.72,161.67 54.81,159.98 C55.9,158.29 57.06,156.65 58.23,155.02 C59.41,153.39 60.79,151.9 61.85,150.2 C62.91,148.5 63.68,146.62 64.59,144.82 C65.49,143.03 66.39,141.23 67.29,139.43 C68.19,137.63 69.09,135.83 69.98,134.03 C70.87,132.23 71.77,130.43 72.63,128.61 C73.48,126.79 74.31,124.95 75.1,123.11 C75.89,121.26 76.66,119.4 77.37,117.52 C78.08,115.64 78.62,113.69 79.36,111.83 C80.1,109.96 80.97,108.15 81.83,106.34 C82.69,104.52 83.63,102.74 84.53,100.94 C85.43,99.14 86.33,97.34 87.23,95.54 C88.13,93.75 88.97,91.92 89.93,90.15 C90.88,88.38 91.91,86.65 92.95,84.94 C93.99,83.22 95.04,81.49 96.19,79.85 C97.33,78.2 98.53,76.59 99.82,75.06 C101.12,73.53 102.52,72.08 103.96,70.67 C105.39,69.27 106.88,67.92 108.41,66.63 C109.95,65.35 111.58,64.15 113.19,62.95 C114.79,61.74 116.37,60.49 118.05,59.39 C119.73,58.3 121.54,57.38 123.28,56.38 C125.02,55.37 126.74,54.33 128.5,53.36 C130.27,52.4 132.06,51.49 133.85,50.57 C135.64,49.66 137.45,48.78 139.25,47.88 C141.05,46.98 142.84,46.06 144.64,45.18 C146.45,44.3 148.27,43.45 150.09,42.58 C151.9,41.72 153.72,40.86 155.54,39.99 C157.35,39.13 159.16,38.25 160.99,37.41 C162.81,36.56 164.63,35.7 166.48,34.91 C168.33,34.12 170.21,33.42 172.08,32.67 C173.94,31.92 175.81,31.18 177.68,30.43 C179.55,29.68 181.4,28.89 183.28,28.19 C185.16,27.49 187.07,26.85 188.98,26.21 C190.88,25.58 192.81,24.98 194.72,24.36 C196.63,23.74 198.55,23.12 200.46,22.5 C202.37,21.89 205.24,20.96 206.2,20.65" fill="none" stroke="#c08ef0" stroke-width="1.0" stroke-opacity="0.7" stroke-linejoin="round" stroke-linecap="round"/>
<path d="M44.1,181.55 C44.75,180.29 46.52,176.76 48,174 C49.48,171.24 51.33,167.83 53,165 C54.67,162.17 56.37,159.5 58,157 C59.63,154.5 61.53,152.07 62.8,150 C64.07,147.93 64.52,146.6 65.6,144.6 C66.68,142.6 67.9,140.18 69.3,138 C70.7,135.82 72.43,133.67 74,131.5 C75.57,129.33 76.98,127.33 78.7,125 C80.42,122.67 82.28,120 84.3,117.5 C86.32,115 88.93,112.05 90.8,110 C92.67,107.95 93.78,106.82 95.5,105.2 C97.22,103.58 99,102.17 101.1,100.3 C103.2,98.43 105.78,95.98 108.1,94 C110.42,92.02 112.53,90.57 115,88.4 C117.47,86.23 119.77,83.73 122.9,81 C126.03,78.27 130.28,75 133.8,72 C137.32,69 140.47,65.9 144,63 C147.53,60.1 150.83,58.02 155,54.6 C159.17,51.18 164.33,46.23 169,42.5 C173.67,38.77 176.8,35.84 183,32.2 C189.2,28.56 202.33,22.57 206.2,20.65" fill="none" stroke="#ff8f84" stroke-width="1.0" stroke-opacity="0.7" stroke-linejoin="round" stroke-linecap="round"/>
<path d="M44.1,181.55 C44.75,179.62 46.18,174.43 48,170 C49.82,165.57 52.17,160.5 55,155 C57.83,149.5 61.67,143.17 65,137 C68.33,130.83 71.83,123.67 75,118 C78.17,112.33 80.87,107.67 84,103 C87.13,98.33 90.8,94.33 93.8,90 C96.8,85.67 99.3,80.5 102,77 C104.7,73.5 107.17,71.42 110,69 C112.83,66.58 115.67,64.67 119,62.5 C122.33,60.33 125.83,58.25 130,56 C134.17,53.75 139.83,50.87 144,49 C148.17,47.13 150.83,46.55 155,44.8 C159.17,43.05 164.33,40.6 169,38.5 C173.67,36.4 176.8,35.18 183,32.2 C189.2,29.23 202.33,22.57 206.2,20.65" fill="none" stroke="#4a86f0" stroke-width="1.0" stroke-opacity="0.7" stroke-linejoin="round" stroke-linecap="round"/>
<path d="M44.1,181.55 C44.62,179.29 45.75,171.59 47.2,168 C48.65,164.41 50.67,163 52.8,160 C54.93,157 57.43,153.33 60,150 C62.57,146.67 65.9,143 68.2,140 C70.5,137 72.17,135.67 73.8,132 C75.43,128.33 76.3,122.67 78,118 C79.7,113.33 81.83,108.67 84,104 C86.17,99.33 88.43,95.57 91,90 C93.57,84.43 96.83,75.93 99.4,70.6 C101.97,65.27 103.8,61.77 106.4,58 C109,54.23 111.77,50.9 115,48 C118.23,45.1 122.13,42.53 125.8,40.6 C129.47,38.67 132.13,38.03 137,36.4 C141.87,34.77 147.83,32.7 155,30.8 C162.17,28.9 171.47,26.69 180,25 C188.53,23.31 201.83,21.38 206.2,20.65" fill="none" stroke="#20c4d8" stroke-width="1.0" stroke-opacity="0.7" stroke-linejoin="round" stroke-linecap="round"/>
<path d="M44.1,181.55 C45.42,177.96 48.45,168.26 52,160 C55.55,151.74 62,139 65.4,132 C68.8,125 69.6,123.33 72.4,118 C75.2,112.67 79.57,105.82 82.2,100 C84.83,94.18 85.8,88.47 88.2,83.1 C90.6,77.73 93.8,72.92 96.6,67.8 C99.4,62.68 102.35,56.53 105,52.4 C107.65,48.27 109.83,45.63 112.5,43 C115.17,40.37 117.85,38.4 121,36.6 C124.15,34.8 125.73,33.63 131.4,32.2 C137.07,30.77 146.9,29.37 155,28 C163.1,26.63 171.47,25.23 180,24 C188.53,22.77 201.83,21.21 206.2,20.65" fill="none" stroke="#2fb04a" stroke-width="1.0" stroke-opacity="0.7" stroke-linejoin="round" stroke-linecap="round"/>
<path d="M44.1,181.55 C44.67,177.96 46.52,168.26 47.5,160 C48.48,151.74 49.12,139.67 50,132 C50.88,124.33 51.63,119.33 52.8,114 C53.97,108.67 55.13,104.9 57,100 C58.87,95.1 61.5,89.1 64,84.6 C66.5,80.1 69,77.07 72,73 C75,68.93 78.48,63.97 82,60.2 C85.52,56.43 90.32,52.77 93.1,50.4 C95.88,48.03 96.05,47.57 98.7,46 C101.35,44.43 104.95,42.72 109,41 C113.05,39.28 118.33,37.4 123,35.7 C127.67,34 131.67,32.2 137,30.8 C142.33,29.4 147.83,28.5 155,27.3 C162.17,26.1 171.47,24.71 180,23.6 C188.53,22.49 201.83,21.14 206.2,20.65" fill="none" stroke="#ff9a33" stroke-width="1.0" stroke-opacity="0.7" stroke-linejoin="round" stroke-linecap="round"/>
<path d="M44.1,181.55 C44.62,176.79 46.33,161.26 47.2,153 C48.07,144.74 48.5,138.5 49.3,132 C50.1,125.5 50.95,119.33 52,114 C53.05,108.67 54.3,104.67 55.6,100 C56.9,95.33 57.98,90.5 59.8,86 C61.62,81.5 63.5,77.53 66.5,73 C69.5,68.47 74.52,62.57 77.8,58.8 C81.08,55.03 82.72,53.32 86.2,50.4 C89.68,47.48 94.9,43.45 98.7,41.3 C102.5,39.15 104.95,38.78 109,37.5 C113.05,36.22 118.33,34.95 123,33.6 C127.67,32.25 131.67,30.57 137,29.4 C142.33,28.23 147.83,27.63 155,26.6 C162.17,25.57 171.47,24.19 180,23.2 C188.53,22.21 201.83,21.07 206.2,20.65" fill="none" stroke="#e33a3a" stroke-width="1.0" stroke-opacity="0.7" stroke-linejoin="round" stroke-linecap="round"/>
<path d="M44.1,181.55 C44.27,177.96 44.7,168.26 45.1,160 C45.5,151.74 46.03,138.5 46.5,132 C46.97,125.5 47.32,124.93 47.9,121 C48.48,117.07 49.18,112.6 50,108.4 C50.82,104.2 51.63,99.53 52.8,95.8 C53.97,92.07 55.05,89.63 57,86 C58.95,82.37 61.27,78.77 64.5,74 C67.73,69.23 73.48,61.8 76.4,57.4 C79.32,53 79.78,50.68 82,47.6 C84.22,44.52 86.92,41.12 89.7,38.9 C92.48,36.68 95.48,35.65 98.7,34.3 C101.92,32.95 104.95,31.97 109,30.8 C113.05,29.63 118.33,28.23 123,27.3 C127.67,26.37 131.67,25.75 137,25.2 C142.33,24.65 147.83,24.53 155,24 C162.17,23.47 171.47,22.56 180,22 C188.53,21.44 201.83,20.88 206.2,20.65" fill="none" stroke="#2a93d6" stroke-width="1.0" stroke-opacity="0.7" stroke-linejoin="round" stroke-linecap="round"/>
<path d="M433.5,60 C433.92,65.83 434.08,85.33 436,95 C437.92,104.67 439.33,112.5 445,118 C450.67,123.5 460,125 470,128 C480,131 493.33,133.17 505,136 C516.67,138.83 528.33,142.67 540,145 C551.67,147.33 566.17,148.57 575,150 C583.83,151.43 590,153 593,153.6" fill="none" stroke="#999999" stroke-width="1.0" stroke-opacity="0.5" stroke-linejoin="round" stroke-linecap="round"/>
<path d="M433,21.3 C433.4,22 434.23,19.88 435.4,25.5 C436.57,31.12 438.57,46.75 440,55 C441.43,63.25 442.45,66.4 444,75 C445.55,83.6 447.63,99.43 449.3,106.6 C450.97,113.77 452.22,115.1 454,118 C455.78,120.9 455.67,122 460,124 C464.33,126 470,127.67 480,130 C490,132.33 506.67,135 520,138 C533.33,141 547.58,144.12 560,148 C572.42,151.88 588.75,159.08 594.5,161.3" fill="none" stroke="#aac8ec" stroke-width="1.0" stroke-opacity="0.7" stroke-linejoin="round" stroke-linecap="round"/>
<path d="M432.3,181.8 L432.5,150 L433,130 L437.6,137 L442.3,146.2 L447,151 L454.3,150.8 L463.4,151 L484,150.8 L494,152.4 L513.8,154.9 L529,157 L540,157.8 L568,159.9 L594.5,161.3" fill="none" stroke="#ff8f84" stroke-width="1.0" stroke-opacity="0.7" stroke-linejoin="round" stroke-linecap="round"/>
<path d="M433,146.2 L435.3,130 L437,133 L438.8,137 L441.2,146.2 L445,149 L449.3,149.7 L455.8,147.7 L460.4,147.7 L466,148.6 L480,149.4 L494,148.7 L508,146.6 L540,145.5 L565.8,146.1 L585,153 L594.5,161.3" fill="none" stroke="#4a86f0" stroke-width="1.0" stroke-opacity="0.7" stroke-linejoin="round" stroke-linecap="round"/>
<path d="M433,21.3 L433.5,120 L434,150 L440,140 L454.3,125 L470,138 L505,146.6 L535,146.6 L560,150 L594.5,161.3" fill="none" stroke="#c08ef0" stroke-width="1.0" stroke-opacity="0.7" stroke-linejoin="round" stroke-linecap="round"/>
<path d="M436.5,21.3 L436.5,100 L440,103 L444.9,104 L449.8,108.2 L451.2,118 L452.6,132 L454,146 L456,149.7 L463.4,150.8 L480,150 L501,148.7 L522,145.9 L540,148 L566,150.5 L585,155 L594.5,161.3" fill="none" stroke="#ffc61a" stroke-width="1.0" stroke-opacity="0.7" stroke-linejoin="round" stroke-linecap="round"/>
<path d="M432.3,182.6 L434,160 L435.3,137 L440,127.6 L447,118.3 L454,120.6 L460,128 L466,136 L472,142 L484,144.7 L508,145.2 L540,145.2 L554.4,147.7 L570,150 L585,155.9 L594.5,161.3" fill="none" stroke="#a277d6" stroke-width="1.0" stroke-opacity="0.7" stroke-linejoin="round" stroke-linecap="round"/>
<path d="M434.2,84 L435.5,88 L437.5,105 L440,130 L445,136 L455,139 L466,140.4 L480,140.7 L494,141 L505,142 L522,141.7 L540,142.4 L550.8,143.5 L566.8,145.6 L585,150.7 L594.5,161.3" fill="none" stroke="#20c4d8" stroke-width="1.0" stroke-opacity="0.7" stroke-linejoin="round" stroke-linecap="round"/>
<path d="M433.5,21.3 L434,80 L434.2,95 L437,105 L440,113.6 L444,118 L449.3,120.6 L466,127.6 L484,134 L508,138.2 L528.7,143.5 L540,145 L560,149 L580,155 L594.5,161.3" fill="none" stroke="#ef82cc" stroke-width="1.0" stroke-opacity="0.7" stroke-linejoin="round" stroke-linecap="round"/>
<path d="M435.3,88 L435.5,106.6 L438.5,118 L442.3,127.6 L449.3,130 L466,132.3 L484,131 L494,134 L505,137.4 L515.3,139.9 L535.9,146.6 L556.5,152.8 L575,158.5 L594.5,161.3" fill="none" stroke="#c8c832" stroke-width="1.0" stroke-opacity="0.7" stroke-linejoin="round" stroke-linecap="round"/>
<path d="M435,90 L436.5,99.6 L440,105 L444.6,111.3 L450,114 L456.3,116 L466,120.6 L474.3,123 L484,126 L494,133.3 L508,137.5 L520.1,139.6 L540,142.4 L560,147 L580,154 L594.5,161.3" fill="none" stroke="#a0685a" stroke-width="1.0" stroke-opacity="0.7" stroke-linejoin="round" stroke-linecap="round"/>
<path d="M434.2,90 L434.5,102 L437,115 L440,123 L444,122 L449.3,120.6 L459,121 L466,125.3 L477.1,126.6 L484,127.3 L494,129.1 L505.2,131.2 L516,133.6 L526.2,138.2 L540,143 L560,148.5 L580,154 L594.5,161.3" fill="none" stroke="#2fb04a" stroke-width="1.0" stroke-opacity="0.7" stroke-linejoin="round" stroke-linecap="round"/>
<path d="M435.5,84 L436.6,92.6 L440,92 L445,93 L452,93.8 L466,95 L477,95.9 L484,98 L491.2,100 L508,102.9 L519.2,107 L532.2,111.5 L540,116.2 L561,128.7 L576.4,143.8 L586,153.6 L594.5,161.3" fill="none" stroke="#ff9a33" stroke-width="1.0" stroke-opacity="0.7" stroke-linejoin="round" stroke-linecap="round"/>
<path d="M432.4,181.6 L432.4,21.3 L441.7,21.3 L446,46.5 L447,57 L450.1,63.2 L455.4,65.3 L460.4,67.2 L468.8,72 L480,80.5 L488.4,85.4 L498.2,92.4 L508,100.8 L516.4,106.4 L522.7,110.6 L530.3,116.2 L540,123.8 L554,131.2 L568,138.2 L582,148 L594.5,161.3" fill="none" stroke="#e33a3a" stroke-width="1.0" stroke-opacity="0.7" stroke-linejoin="round" stroke-linecap="round"/>
<path d="M432.6,78 L433,52 L433.3,43.3 L434.4,39.8 L436,39.1 L437.5,43.3 L439.6,47.5 L442.8,48.6 L447,48.6 L452,48.4 L460.4,51.2 L466,54 L475.7,63.7 L480,66.9 L485.6,70 L491.2,73.1 L494,75.6 L503.8,82.6 L515,89.6 L525.5,96.2 L533.1,103.6 L540,112 L554,121.7 L561,127 L566.8,129 L575,132.6 L581.2,138.4 L589,150.8 L594.5,161.3" fill="none" stroke="#2a93d6" stroke-width="1.0" stroke-opacity="0.7" stroke-linejoin="round" stroke-linecap="round"/>
<circle cx="525.5" cy="96.2" r="1.75" fill="#2a93d6" fill-opacity="0.9"/>
<circle cx="522.7" cy="110.6" r="1.75" fill="#e33a3a" fill-opacity="0.9"/>
<circle cx="532.2" cy="111.5" r="1.75" fill="#ff9a33" fill-opacity="0.9"/>
<circle cx="515.8" cy="133.8" r="1.75" fill="#2fb04a" fill-opacity="0.9"/>
<circle cx="515.3" cy="139.9" r="1.75" fill="#c8c832" fill-opacity="0.9"/>
<circle cx="520.2" cy="139.4" r="1.75" fill="#a0685a" fill-opacity="0.9"/>
<circle cx="528.7" cy="143.5" r="1.75" fill="#f4b0e0" fill-opacity="0.9"/>
<circle cx="550.8" cy="143.5" r="1.75" fill="#20c4d8" fill-opacity="0.9"/>
<circle cx="565.8" cy="146.1" r="1.75" fill="#4a86f0" fill-opacity="0.9"/>
<circle cx="554.4" cy="147.7" r="1.75" fill="#c08ef0" fill-opacity="0.9"/>
<circle cx="513.8" cy="154.9" r="1.75" fill="#ff8f84" fill-opacity="0.9"/>
<circle cx="576" cy="143.5" r="1.75" fill="#c4a48e" fill-opacity="0.9"/>
<path d="M44.9,400.2 C45.17,398.83 45.73,395.7 46.5,392 C47.27,388.3 48.25,383 49.5,378 C50.75,373 52.25,367.5 54,362 C55.75,356.5 58,350.33 60,345 C62,339.67 63.83,335 66,330 C68.17,325 70.67,319.67 73,315 C75.33,310.33 77.5,306 80,302 C82.5,298 85.17,294.33 88,291 C90.83,287.67 93.83,284.67 97,282 C100.17,279.33 103.17,277.67 107,275 C110.83,272.33 112.83,269.67 120,266 C127.17,262.33 140,256.5 150,253 C160,249.5 170.63,247.1 180,245 C189.37,242.9 201.83,241.17 206.2,240.4" fill="none" stroke="#aac8ec" stroke-width="1.0" stroke-opacity="0.7" stroke-linejoin="round" stroke-linecap="round"/>
<path d="M44.9,400.2 C45.25,398.83 45.98,395.2 47,392 C48.02,388.8 49.5,385 51,381 C52.5,377 54.17,372.67 56,368 C57.83,363.33 60,357.83 62,353 C64,348.17 66,343.33 68,339 C70,334.67 72,330.17 74,327 C76,323.83 77.83,322.33 80,320 C82.17,317.67 84.9,315.33 87,313 C89.1,310.67 90.43,308.83 92.6,306 C94.77,303.17 97.1,299.5 100,296 C102.9,292.5 106.33,288.83 110,285 C113.67,281.17 115.33,277.67 122,273 C128.67,268.33 140.33,261.33 150,257 C159.67,252.67 170.63,249.77 180,247 C189.37,244.23 201.83,241.5 206.2,240.4" fill="none" stroke="#999999" stroke-width="1.0" stroke-opacity="0.7" stroke-linejoin="round" stroke-linecap="round"/>
<path d="M44.9,400.2 C45.17,399 45.82,396.03 46.5,393 C47.18,389.97 47.92,386.17 49,382 C50.08,377.83 51.47,373.67 53,368 C54.53,362.33 56.7,353.33 58.2,348 C59.7,342.67 60.63,339.83 62,336 C63.37,332.17 64.73,329.17 66.4,325 C68.07,320.83 69.43,316.13 72,311 C74.57,305.87 78.67,297.87 81.8,294.2 C84.93,290.53 87.77,290.87 90.8,289 C93.83,287.13 96.8,284.83 100,283 C103.2,281.17 106.67,280 110,278 C113.33,276 113.33,274.67 120,271 C126.67,267.33 140,260 150,256 C160,252 170.63,249.6 180,247 C189.37,244.4 201.83,241.5 206.2,240.4" fill="none" stroke="#a277d6" stroke-width="1.0" stroke-opacity="0.7" stroke-linejoin="round" stroke-linecap="round"/>
<path d="M44.9,400.2 C45.17,398.83 45.65,395.37 46.5,392 C47.35,388.63 48.75,384.33 50,380 C51.25,375.67 52.58,371 54,366 C55.42,361 57,354.83 58.5,350 C60,345.17 61.4,341.07 63,337 C64.6,332.93 66.43,329.37 68.1,325.6 C69.77,321.83 71.48,317.67 73,314.4 C74.52,311.13 75.37,308.57 77.2,306 C79.03,303.43 81.53,301 84,299 C86.47,297 88.77,295.95 92,294 C95.23,292.05 100.4,289.12 103.4,287.3 C106.4,285.48 107.23,285.15 110,283.1 C112.77,281.05 112.73,279.05 120,275 C127.27,270.95 143.6,263.13 153.6,258.8 C163.6,254.47 171.23,252.07 180,249 C188.77,245.93 201.83,241.83 206.2,240.4" fill="none" stroke="#ef82cc" stroke-width="1.0" stroke-opacity="0.7" stroke-linejoin="round" stroke-linecap="round"/>
<path d="M44.9,400.2 C45.25,398.5 45.98,394.03 47,390 C48.02,385.97 49.5,381 51,376 C52.5,371 54.17,365.5 56,360 C57.83,354.5 60,348.33 62,343 C64,337.67 65.83,332.83 68,328 C70.17,323.17 72.83,317.83 75,314 C77.17,310.17 78.93,307.77 81,305 C83.07,302.23 85.07,300.48 87.4,297.4 C89.73,294.32 92.62,289.45 95,286.5 C97.38,283.55 99.2,281.62 101.7,279.7 C104.2,277.78 106.95,276.98 110,275 C113.05,273.02 112.73,271.62 120,267.8 C127.27,263.98 143.6,255.9 153.6,252.1 C163.6,248.3 171.23,246.95 180,245 C188.77,243.05 201.83,241.17 206.2,240.4" fill="none" stroke="#a0685a" stroke-width="1.0" stroke-opacity="0.7" stroke-linejoin="round" stroke-linecap="round"/>
<path d="M44.9,400.2 C45.25,399 46.15,395.53 47,393 C47.85,390.47 48.83,388.17 50,385 C51.17,381.83 52.67,377.83 54,374 C55.33,370.17 56.67,366 58,362 C59.33,358 60.67,353.33 62,350 C63.33,346.67 64.67,344.17 66,342 C67.33,339.83 68.83,338.33 70,337 C71.17,335.67 71.92,335.32 73,334 C74.08,332.68 75.33,330.73 76.5,329.1 C77.67,327.47 78.6,325.95 80,324.2 C81.4,322.45 83.15,320.47 84.9,318.6 C86.65,316.73 88.65,314.75 90.5,313 C92.35,311.25 94.42,309.77 96,308.1 C97.58,306.43 98.67,304.85 100,303 C101.33,301.15 102.67,299.03 104,297 C105.33,294.97 105.7,293.93 108,290.8 C110.3,287.67 115,282.63 117.8,278.2 C120.6,273.77 123.05,267.23 124.8,264.2 C126.55,261.17 126.12,262.2 128.3,260 C130.48,257.8 132.62,253.33 137.9,251 C143.18,248.67 148.62,247.77 160,246 C171.38,244.23 198.5,241.33 206.2,240.4" fill="none" stroke="#c8c832" stroke-width="1.0" stroke-opacity="0.7" stroke-linejoin="round" stroke-linecap="round"/>
<path d="M44.9,400.2 C45.13,398.7 45.72,395.03 46.3,391.2 C46.88,387.37 47.7,381.4 48.4,377.2 C49.1,373 49.68,369.27 50.5,366 C51.32,362.73 52.28,360.27 53.3,357.6 C54.32,354.93 55.32,352.93 56.6,350 C57.88,347.07 59.43,343.33 61,340 C62.57,336.67 64.17,333.67 66,330 C67.83,326.33 70.17,321.17 72,318 C73.83,314.83 75.13,313.1 77,311 C78.87,308.9 81.32,306.73 83.2,305.4 C85.08,304.07 86.57,303.9 88.3,303 C90.03,302.1 91.78,301.22 93.6,300 C95.42,298.78 97.47,297.2 99.2,295.7 C100.93,294.2 102.2,292.53 104,291 C105.8,289.47 107.33,288.7 110,286.5 C112.67,284.3 116.47,280.37 120,277.8 C123.53,275.23 125.6,274.07 131.2,271.1 C136.8,268.13 146.15,263.17 153.6,260 C161.05,256.83 169,254.6 175.9,252.1 C182.8,249.6 189.95,246.95 195,245 C200.05,243.05 204.33,241.17 206.2,240.4" fill="none" stroke="#20c4d8" stroke-width="1.0" stroke-opacity="0.7" stroke-linejoin="round" stroke-linecap="round"/>
<path d="M44.9,400.2 C45.25,399 46.15,395.7 47,393 C47.85,390.3 48.83,387.5 50,384 C51.17,380.5 52.67,376 54,372 C55.33,368 56.72,364 58,360 C59.28,356 60.37,352 61.7,348 C63.03,344 64.28,339.83 66,336 C67.72,332.17 70.33,328.33 72,325 C73.67,321.67 74.37,319.03 76,316 C77.63,312.97 80.3,309.47 81.8,306.8 C83.3,304.13 84.07,302.27 85,300 C85.93,297.73 86.58,295.73 87.4,293.2 C88.22,290.67 88.78,287.18 89.9,284.8 C91.02,282.42 92.55,280.58 94.1,278.9 C95.65,277.22 97.52,275.95 99.2,274.7 C100.88,273.45 102.4,272.52 104.2,271.4 C106,270.28 107.37,269.5 110,268 C112.63,266.5 115.35,265.4 120,262.4 C124.65,259.4 130.45,253.02 137.9,250 C145.35,246.98 153.32,245.9 164.7,244.3 C176.08,242.7 199.28,241.05 206.2,240.4" fill="none" stroke="#2fb04a" stroke-width="1.0" stroke-opacity="0.7" stroke-linejoin="round" stroke-linecap="round"/>
<path d="M44.9,400.2 C45.02,399.87 44.55,399.7 45.6,398.2 C46.65,396.7 49.33,393.53 51.2,391.2 C53.07,388.87 54.93,386.77 56.8,384.2 C58.67,381.63 60.77,380 62.4,375.8 C64.03,371.6 65.33,364.13 66.6,359 C67.87,353.87 68.4,349.03 70,345 C71.6,340.97 74.23,339.3 76.2,334.8 C78.17,330.3 80.25,322.8 81.8,318 C83.35,313.2 84.47,309.5 85.5,306 C86.53,302.5 87.33,299.67 88,297 C88.67,294.33 89.03,292.6 89.5,290 C89.97,287.4 90.3,283.95 90.8,281.4 C91.3,278.85 91.95,276.93 92.5,274.7 C93.05,272.47 93.35,270.12 94.1,268 C94.85,265.88 95.92,263.63 97,262 C98.08,260.37 99.3,259.65 100.6,258.2 C101.9,256.75 102.95,254.58 104.8,253.3 C106.65,252.02 109.62,251.43 111.7,250.5 C113.78,249.57 114.92,248.4 117.3,247.7 C119.68,247 121.82,247.05 126,246.3 C130.18,245.55 135.95,244.08 142.4,243.2 C148.85,242.32 154.07,241.47 164.7,241 C175.33,240.53 199.28,240.5 206.2,240.4" fill="none" stroke="#ff9a33" stroke-width="1.0" stroke-opacity="0.7" stroke-linejoin="round" stroke-linecap="round"/>
<path d="M44.9,400.2 C45.17,399.5 45.68,397.27 46.5,396 C47.32,394.73 48.32,395.27 49.8,392.6 C51.28,389.93 53.53,384.43 55.4,380 C57.27,375.57 59.13,371.83 61,366 C62.87,360.17 64.53,351.83 66.6,345 C68.67,338.17 71.33,331.33 73.4,325 C75.47,318.67 77.57,311.33 79,307 C80.43,302.67 81.13,301.72 82,299 C82.87,296.28 83.43,293.63 84.2,290.7 C84.97,287.77 85.78,283.65 86.6,281.4 C87.42,279.15 87.98,278.6 89.1,277.2 C90.22,275.8 91.9,274.4 93.3,273 C94.7,271.6 95.63,270.38 97.5,268.8 C99.37,267.22 102.13,265.73 104.5,263.5 C106.87,261.27 109.12,257.68 111.7,255.4 C114.28,253.12 114.88,251.83 120,249.8 C125.12,247.77 134.95,244.67 142.4,243.2 C149.85,241.73 154.07,241.47 164.7,241 C175.33,240.53 199.28,240.5 206.2,240.4" fill="none" stroke="#e33a3a" stroke-width="1.0" stroke-opacity="0.7" stroke-linejoin="round" stroke-linecap="round"/>
<path d="M44.9,400.2 C45.13,398.7 45.72,395.03 46.3,391.2 C46.88,387.37 47.7,381.4 48.4,377.2 C49.1,373 49.68,369.27 50.5,366 C51.32,362.73 52.25,361.1 53.3,357.6 C54.35,354.1 55.32,349.27 56.8,345 C58.28,340.73 60.13,336.97 62.2,332 C64.27,327.03 67.23,320.27 69.2,315.2 C71.17,310.13 72.37,305.27 74,301.6 C75.63,297.93 77.33,295.58 79,293.2 C80.67,290.82 82.45,289.27 84,287.3 C85.55,285.33 86.75,283.22 88.3,281.4 C89.85,279.58 91.48,277.93 93.3,276.4 C95.12,274.87 96.92,273.68 99.2,272.2 C101.48,270.72 103.53,269.48 107,267.5 C110.47,265.52 115.6,262.67 120,260.3 C124.4,257.93 127.8,255.78 133.4,253.3 C139,250.82 145.83,247.37 153.6,245.4 C161.37,243.43 171.23,242.33 180,241.5 C188.77,240.67 201.83,240.58 206.2,240.4" fill="none" stroke="#2a93d6" stroke-width="1.0" stroke-opacity="0.7" stroke-linejoin="round" stroke-linecap="round"/>
<path d="M433.4,239.3 L433.4,400.3" fill="none" stroke="#d9a441" stroke-width="1.0" stroke-opacity="0.7" stroke-linejoin="round" stroke-linecap="round"/>
<path d="M435,386 L440,376 L460,370 L485,367 L508,369 L530,374 L565,384 L595.3,391.4" fill="none" stroke="#aac8ec" stroke-width="1.0" stroke-opacity="0.7" stroke-linejoin="round" stroke-linecap="round"/>
<path d="M435,388 L440,378 L460,374 L485,373 L500.3,374.7 L530,379 L565,386 L595.3,391.4" fill="none" stroke="#999999" stroke-width="1.0" stroke-opacity="0.7" stroke-linejoin="round" stroke-linecap="round"/>
<path d="M435,392 L440,380 L460,377 L490,377 L517,379.2 L540,383 L570,387.5 L595.3,391.4" fill="none" stroke="#20c4d8" stroke-width="1.0" stroke-opacity="0.7" stroke-linejoin="round" stroke-linecap="round"/>
<path d="M435,390 L438,375 L450,372 L470,368 L494,366.2 L520,372 L550,380 L595.3,391.4" fill="none" stroke="#a277d6" stroke-width="1.0" stroke-opacity="0.7" stroke-linejoin="round" stroke-linecap="round"/>
<path d="M435,385 L436.2,378 L460,374.5 L485,374 L498.2,373.1 L520,377 L550,383 L595.3,391.4" fill="none" stroke="#ef82cc" stroke-width="1.0" stroke-opacity="0.7" stroke-linejoin="round" stroke-linecap="round"/>
<path d="M433.4,392 L436.2,380.8 L453,373.8 L464.2,371 L478.1,375.2 L485,377.3 L508,379.9 L540,385.5 L570,389 L595.3,391.4" fill="none" stroke="#c8c832" stroke-width="1.0" stroke-opacity="0.7" stroke-linejoin="round" stroke-linecap="round"/>
<path d="M436,380 L437.6,372.4 L446,372.4 L460,366.8 L469.8,365.4 L485,368.2 L505.2,373.1 L530,379 L560,385 L595.3,391.4" fill="none" stroke="#a0685a" stroke-width="1.0" stroke-opacity="0.7" stroke-linejoin="round" stroke-linecap="round"/>
<path d="M439,372.4 L441.8,364 L446,358.4 L453,361 L460,364 L469.8,363.3 L480,364.5 L494,366.2 L510,371 L530,377 L560,383 L595.3,391.4" fill="none" stroke="#ff9a33" stroke-width="1.0" stroke-opacity="0.7" stroke-linejoin="round" stroke-linecap="round"/>
<path d="M434,395 L434.8,389.2 L439,382.2 L446,379.4 L460,376.6 L474,375.9 L480,375 L508,373.1 L530,371.8 L556.1,371.3 L565.9,373.4 L572.4,375.9 L585.5,378.3 L590.4,384 L595.3,391.4" fill="none" stroke="#2fb04a" stroke-width="1.0" stroke-opacity="0.7" stroke-linejoin="round" stroke-linecap="round"/>
<path d="M434,380 L434.8,340.6 L436.2,336.4 L437.6,336.4 L439,344.8 L439.7,354 L441.8,353.5 L444.6,356 L447.4,359.5 L453,361.2 L464.2,365.4 L474,370.3 L480,370 L508,375 L530,378 L547.5,379.5 L570,384 L595.3,391.4" fill="none" stroke="#e33a3a" stroke-width="1.0" stroke-opacity="0.7" stroke-linejoin="round" stroke-linecap="round"/>
<path d="M433.8,360 L434.1,337.8 L435.5,314 L437.3,302.1 L438.3,304.2 L439.7,314 L441.1,316.8 L442.5,328 L444.6,342 L446.7,353.8 L450.2,355.2 L453,357.3 L458.6,356.6 L464.2,356.6 L467,357.7 L471.2,360.5 L475.3,363.3 L480,366.5 L485,367.5 L508,371.5 L530,374.3 L562.6,379.2 L595.3,391.4" fill="none" stroke="#2a93d6" stroke-width="1.0" stroke-opacity="0.7" stroke-linejoin="round" stroke-linecap="round"/>
<circle cx="556.1" cy="371.3" r="1.75" fill="#2fb04a" fill-opacity="0.9"/>
<circle cx="547.5" cy="379.5" r="1.75" fill="#e33a3a" fill-opacity="0.9"/>
<circle cx="494" cy="366.2" r="1.75" fill="#a277d6" fill-opacity="0.9"/>
<circle cx="508" cy="369" r="1.75" fill="#aac8ec" fill-opacity="0.9"/>
<circle cx="518.5" cy="373.1" r="1.75" fill="#2a93d6" fill-opacity="0.9"/>
<circle cx="517" cy="379.2" r="1.75" fill="#20c4d8" fill-opacity="0.9"/>
<circle cx="498.2" cy="373.1" r="1.75" fill="#ef82cc" fill-opacity="0.9"/>
<circle cx="500.3" cy="374.7" r="1.75" fill="#999999" fill-opacity="0.9"/>
<circle cx="505.2" cy="373.1" r="1.75" fill="#a0685a" fill-opacity="0.9"/>
<circle cx="478.1" cy="375.2" r="1.75" fill="#c8c832" fill-opacity="0.9"/>
<rect x="36" y="12.6" width="178.3" height="177" fill="none" stroke="#2a2a2a" stroke-width="1.3"/>
<rect x="424.4" y="12.8" width="178.2" height="176.8" fill="none" stroke="#2a2a2a" stroke-width="1.3"/>
<rect x="36.5" y="232" width="177.9" height="176.4" fill="none" stroke="#2a2a2a" stroke-width="1.3"/>
<rect x="425.5" y="231.9" width="178.1" height="176.6" fill="none" stroke="#2a2a2a" stroke-width="1.3"/>
<line x1="44.1" y1="189.6" x2="44.1" y2="191.8" stroke="#333" stroke-width="0.9"/>
<line x1="33.8" y1="181.55" x2="36" y2="181.55" stroke="#333" stroke-width="0.9"/>
<text x="44.38" y="199.45" font-size="8.2" letter-spacing="0.55" text-anchor="middle" fill="#262626" stroke="#262626" stroke-width="0.22">0.0</text>
<text x="32.95" y="184.55" font-size="8.2" letter-spacing="0.55" text-anchor="end" fill="#262626" stroke="#262626" stroke-width="0.22">0.0</text>
<line x1="76.52" y1="189.6" x2="76.52" y2="191.8" stroke="#333" stroke-width="0.9"/>
<line x1="33.8" y1="149.37" x2="36" y2="149.37" stroke="#333" stroke-width="0.9"/>
<text x="76.8" y="199.45" font-size="8.2" letter-spacing="0.55" text-anchor="middle" fill="#262626" stroke="#262626" stroke-width="0.22">0.2</text>
<text x="32.95" y="152.37" font-size="8.2" letter-spacing="0.55" text-anchor="end" fill="#262626" stroke="#262626" stroke-width="0.22">0.2</text>
<line x1="108.94" y1="189.6" x2="108.94" y2="191.8" stroke="#333" stroke-width="0.9"/>
<line x1="33.8" y1="117.19" x2="36" y2="117.19" stroke="#333" stroke-width="0.9"/>
<text x="109.22" y="199.45" font-size="8.2" letter-spacing="0.55" text-anchor="middle" fill="#262626" stroke="#262626" stroke-width="0.22">0.4</text>
<text x="32.95" y="120.19" font-size="8.2" letter-spacing="0.55" text-anchor="end" fill="#262626" stroke="#262626" stroke-width="0.22">0.4</text>
<line x1="141.36" y1="189.6" x2="141.36" y2="191.8" stroke="#333" stroke-width="0.9"/>
<line x1="33.8" y1="85.01" x2="36" y2="85.01" stroke="#333" stroke-width="0.9"/>
<text x="141.63" y="199.45" font-size="8.2" letter-spacing="0.55" text-anchor="middle" fill="#262626" stroke="#262626" stroke-width="0.22">0.6</text>
<text x="32.95" y="88.01" font-size="8.2" letter-spacing="0.55" text-anchor="end" fill="#262626" stroke="#262626" stroke-width="0.22">0.6</text>
<line x1="173.78" y1="189.6" x2="173.78" y2="191.8" stroke="#333" stroke-width="0.9"/>
<line x1="33.8" y1="52.83" x2="36" y2="52.83" stroke="#333" stroke-width="0.9"/>
<text x="174.05" y="199.45" font-size="8.2" letter-spacing="0.55" text-anchor="middle" fill="#262626" stroke="#262626" stroke-width="0.22">0.8</text>
<text x="32.95" y="55.83" font-size="8.2" letter-spacing="0.55" text-anchor="end" fill="#262626" stroke="#262626" stroke-width="0.22">0.8</text>
<line x1="206.2" y1="189.6" x2="206.2" y2="191.8" stroke="#333" stroke-width="0.9"/>
<line x1="33.8" y1="20.65" x2="36" y2="20.65" stroke="#333" stroke-width="0.9"/>
<text x="206.47" y="199.45" font-size="8.2" letter-spacing="0.55" text-anchor="middle" fill="#262626" stroke="#262626" stroke-width="0.22">1.0</text>
<text x="32.95" y="23.65" font-size="8.2" letter-spacing="0.55" text-anchor="end" fill="#262626" stroke="#262626" stroke-width="0.22">1.0</text>
<text x="125.15" y="209" font-size="8.1" text-anchor="middle" fill="#262626" stroke="#262626" stroke-width="0.2">False Positive Rate</text>
<text x="15.9" y="101.1" font-size="8.2" text-anchor="middle" fill="#262626" stroke="#262626" stroke-width="0.2" transform="rotate(-90 15.9 101.1)">True Positive Rate</text>
<line x1="432.5" y1="189.6" x2="432.5" y2="191.8" stroke="#333" stroke-width="0.9"/>
<line x1="422.2" y1="181.56" x2="424.4" y2="181.56" stroke="#333" stroke-width="0.9"/>
<text x="432.77" y="199.45" font-size="8.2" letter-spacing="0.55" text-anchor="middle" fill="#262626" stroke="#262626" stroke-width="0.22">0.0</text>
<text x="421.35" y="184.56" font-size="8.2" letter-spacing="0.55" text-anchor="end" fill="#262626" stroke="#262626" stroke-width="0.22">0.0</text>
<line x1="464.9" y1="189.6" x2="464.9" y2="191.8" stroke="#333" stroke-width="0.9"/>
<line x1="422.2" y1="149.42" x2="424.4" y2="149.42" stroke="#333" stroke-width="0.9"/>
<text x="465.17" y="199.45" font-size="8.2" letter-spacing="0.55" text-anchor="middle" fill="#262626" stroke="#262626" stroke-width="0.22">0.2</text>
<text x="421.35" y="152.42" font-size="8.2" letter-spacing="0.55" text-anchor="end" fill="#262626" stroke="#262626" stroke-width="0.22">0.2</text>
<line x1="497.3" y1="189.6" x2="497.3" y2="191.8" stroke="#333" stroke-width="0.9"/>
<line x1="422.2" y1="117.27" x2="424.4" y2="117.27" stroke="#333" stroke-width="0.9"/>
<text x="497.57" y="199.45" font-size="8.2" letter-spacing="0.55" text-anchor="middle" fill="#262626" stroke="#262626" stroke-width="0.22">0.4</text>
<text x="421.35" y="120.27" font-size="8.2" letter-spacing="0.55" text-anchor="end" fill="#262626" stroke="#262626" stroke-width="0.22">0.4</text>
<line x1="529.7" y1="189.6" x2="529.7" y2="191.8" stroke="#333" stroke-width="0.9"/>
<line x1="422.2" y1="85.13" x2="424.4" y2="85.13" stroke="#333" stroke-width="0.9"/>
<text x="529.98" y="199.45" font-size="8.2" letter-spacing="0.55" text-anchor="middle" fill="#262626" stroke="#262626" stroke-width="0.22">0.6</text>
<text x="421.35" y="88.13" font-size="8.2" letter-spacing="0.55" text-anchor="end" fill="#262626" stroke="#262626" stroke-width="0.22">0.6</text>
<line x1="562.1" y1="189.6" x2="562.1" y2="191.8" stroke="#333" stroke-width="0.9"/>
<line x1="422.2" y1="52.98" x2="424.4" y2="52.98" stroke="#333" stroke-width="0.9"/>
<text x="562.38" y="199.45" font-size="8.2" letter-spacing="0.55" text-anchor="middle" fill="#262626" stroke="#262626" stroke-width="0.22">0.8</text>
<text x="421.35" y="55.98" font-size="8.2" letter-spacing="0.55" text-anchor="end" fill="#262626" stroke="#262626" stroke-width="0.22">0.8</text>
<line x1="594.5" y1="189.6" x2="594.5" y2="191.8" stroke="#333" stroke-width="0.9"/>
<line x1="422.2" y1="20.84" x2="424.4" y2="20.84" stroke="#333" stroke-width="0.9"/>
<text x="594.77" y="199.45" font-size="8.2" letter-spacing="0.55" text-anchor="middle" fill="#262626" stroke="#262626" stroke-width="0.22">1.0</text>
<text x="421.35" y="23.84" font-size="8.2" letter-spacing="0.55" text-anchor="end" fill="#262626" stroke="#262626" stroke-width="0.22">1.0</text>
<text x="513.5" y="209" font-size="8.1" text-anchor="middle" fill="#262626" stroke="#262626" stroke-width="0.2">Recall</text>
<text x="404.6" y="102.5" font-size="8.2" text-anchor="middle" fill="#262626" stroke="#262626" stroke-width="0.2" transform="rotate(-90 404.6 102.5)">Precision</text>
<line x1="44.59" y1="408.4" x2="44.59" y2="410.6" stroke="#333" stroke-width="0.9"/>
<line x1="34.3" y1="400.38" x2="36.5" y2="400.38" stroke="#333" stroke-width="0.9"/>
<text x="44.86" y="418.25" font-size="8.2" letter-spacing="0.55" text-anchor="middle" fill="#262626" stroke="#262626" stroke-width="0.22">0.0</text>
<text x="33.45" y="403.38" font-size="8.2" letter-spacing="0.55" text-anchor="end" fill="#262626" stroke="#262626" stroke-width="0.22">0.0</text>
<line x1="76.93" y1="408.4" x2="76.93" y2="410.6" stroke="#333" stroke-width="0.9"/>
<line x1="34.3" y1="368.31" x2="36.5" y2="368.31" stroke="#333" stroke-width="0.9"/>
<text x="77.21" y="418.25" font-size="8.2" letter-spacing="0.55" text-anchor="middle" fill="#262626" stroke="#262626" stroke-width="0.22">0.2</text>
<text x="33.45" y="371.31" font-size="8.2" letter-spacing="0.55" text-anchor="end" fill="#262626" stroke="#262626" stroke-width="0.22">0.2</text>
<line x1="109.28" y1="408.4" x2="109.28" y2="410.6" stroke="#333" stroke-width="0.9"/>
<line x1="34.3" y1="336.24" x2="36.5" y2="336.24" stroke="#333" stroke-width="0.9"/>
<text x="109.55" y="418.25" font-size="8.2" letter-spacing="0.55" text-anchor="middle" fill="#262626" stroke="#262626" stroke-width="0.22">0.4</text>
<text x="33.45" y="339.24" font-size="8.2" letter-spacing="0.55" text-anchor="end" fill="#262626" stroke="#262626" stroke-width="0.22">0.4</text>
<line x1="141.62" y1="408.4" x2="141.62" y2="410.6" stroke="#333" stroke-width="0.9"/>
<line x1="34.3" y1="304.16" x2="36.5" y2="304.16" stroke="#333" stroke-width="0.9"/>
<text x="141.9" y="418.25" font-size="8.2" letter-spacing="0.55" text-anchor="middle" fill="#262626" stroke="#262626" stroke-width="0.22">0.6</text>
<text x="33.45" y="307.16" font-size="8.2" letter-spacing="0.55" text-anchor="end" fill="#262626" stroke="#262626" stroke-width="0.22">0.6</text>
<line x1="173.97" y1="408.4" x2="173.97" y2="410.6" stroke="#333" stroke-width="0.9"/>
<line x1="34.3" y1="272.09" x2="36.5" y2="272.09" stroke="#333" stroke-width="0.9"/>
<text x="174.24" y="418.25" font-size="8.2" letter-spacing="0.55" text-anchor="middle" fill="#262626" stroke="#262626" stroke-width="0.22">0.8</text>
<text x="33.45" y="275.09" font-size="8.2" letter-spacing="0.55" text-anchor="end" fill="#262626" stroke="#262626" stroke-width="0.22">0.8</text>
<line x1="206.31" y1="408.4" x2="206.31" y2="410.6" stroke="#333" stroke-width="0.9"/>
<line x1="34.3" y1="240.02" x2="36.5" y2="240.02" stroke="#333" stroke-width="0.9"/>
<text x="206.59" y="418.25" font-size="8.2" letter-spacing="0.55" text-anchor="middle" fill="#262626" stroke="#262626" stroke-width="0.22">1.0</text>
<text x="33.45" y="243.02" font-size="8.2" letter-spacing="0.55" text-anchor="end" fill="#262626" stroke="#262626" stroke-width="0.22">1.0</text>
<text x="125.45" y="427.8" font-size="8.1" text-anchor="middle" fill="#262626" stroke="#262626" stroke-width="0.2">False Positive Rate</text>
<text x="16.1" y="320.2" font-size="8.2" text-anchor="middle" fill="#262626" stroke="#262626" stroke-width="0.2" transform="rotate(-90 16.1 320.2)">True Positive Rate</text>
<line x1="433.6" y1="408.5" x2="433.6" y2="410.7" stroke="#333" stroke-width="0.9"/>
<line x1="423.3" y1="400.47" x2="425.5" y2="400.47" stroke="#333" stroke-width="0.9"/>
<text x="433.87" y="418.35" font-size="8.2" letter-spacing="0.55" text-anchor="middle" fill="#262626" stroke="#262626" stroke-width="0.22">0.0</text>
<text x="422.45" y="403.47" font-size="8.2" letter-spacing="0.55" text-anchor="end" fill="#262626" stroke="#262626" stroke-width="0.22">0.0</text>
<line x1="465.98" y1="408.5" x2="465.98" y2="410.7" stroke="#333" stroke-width="0.9"/>
<line x1="423.3" y1="368.36" x2="425.5" y2="368.36" stroke="#333" stroke-width="0.9"/>
<text x="466.25" y="418.35" font-size="8.2" letter-spacing="0.55" text-anchor="middle" fill="#262626" stroke="#262626" stroke-width="0.22">0.2</text>
<text x="422.45" y="371.36" font-size="8.2" letter-spacing="0.55" text-anchor="end" fill="#262626" stroke="#262626" stroke-width="0.22">0.2</text>
<line x1="498.36" y1="408.5" x2="498.36" y2="410.7" stroke="#333" stroke-width="0.9"/>
<line x1="423.3" y1="336.25" x2="425.5" y2="336.25" stroke="#333" stroke-width="0.9"/>
<text x="498.63" y="418.35" font-size="8.2" letter-spacing="0.55" text-anchor="middle" fill="#262626" stroke="#262626" stroke-width="0.22">0.4</text>
<text x="422.45" y="339.25" font-size="8.2" letter-spacing="0.55" text-anchor="end" fill="#262626" stroke="#262626" stroke-width="0.22">0.4</text>
<line x1="530.74" y1="408.5" x2="530.74" y2="410.7" stroke="#333" stroke-width="0.9"/>
<line x1="423.3" y1="304.15" x2="425.5" y2="304.15" stroke="#333" stroke-width="0.9"/>
<text x="531.02" y="418.35" font-size="8.2" letter-spacing="0.55" text-anchor="middle" fill="#262626" stroke="#262626" stroke-width="0.22">0.6</text>
<text x="422.45" y="307.15" font-size="8.2" letter-spacing="0.55" text-anchor="end" fill="#262626" stroke="#262626" stroke-width="0.22">0.6</text>
<line x1="563.12" y1="408.5" x2="563.12" y2="410.7" stroke="#333" stroke-width="0.9"/>
<line x1="423.3" y1="272.04" x2="425.5" y2="272.04" stroke="#333" stroke-width="0.9"/>
<text x="563.4" y="418.35" font-size="8.2" letter-spacing="0.55" text-anchor="middle" fill="#262626" stroke="#262626" stroke-width="0.22">0.8</text>
<text x="422.45" y="275.04" font-size="8.2" letter-spacing="0.55" text-anchor="end" fill="#262626" stroke="#262626" stroke-width="0.22">0.8</text>
<line x1="595.5" y1="408.5" x2="595.5" y2="410.7" stroke="#333" stroke-width="0.9"/>
<line x1="423.3" y1="239.93" x2="425.5" y2="239.93" stroke="#333" stroke-width="0.9"/>
<text x="595.78" y="418.35" font-size="8.2" letter-spacing="0.55" text-anchor="middle" fill="#262626" stroke="#262626" stroke-width="0.22">1.0</text>
<text x="422.45" y="242.93" font-size="8.2" letter-spacing="0.55" text-anchor="end" fill="#262626" stroke="#262626" stroke-width="0.22">1.0</text>
<text x="514.55" y="427.9" font-size="8.1" text-anchor="middle" fill="#262626" stroke="#262626" stroke-width="0.2">Recall</text>
<text x="405.6" y="321.1" font-size="8.2" text-anchor="middle" fill="#262626" stroke="#262626" stroke-width="0.2" transform="rotate(-90 405.6 321.1)">Precision</text>
<line x1="218.3" y1="7.6" x2="241" y2="7.6" stroke="#2a93d6" stroke-width="1.0" stroke-opacity="0.55"/>
<text x="247.3" y="10.64" font-size="7.52" fill="#1a1a1a" stroke="#1a1a1a" stroke-width="0.22">DisoFLAG-Protein (AUC:0.879, C:1.0)</text>
<line x1="218.3" y1="22.02" x2="241" y2="22.02" stroke="#e33a3a" stroke-width="1.0" stroke-opacity="0.55"/>
<text x="247.3" y="25.06" font-size="7.52" fill="#1a1a1a" stroke="#1a1a1a" stroke-width="0.22">DisoFLAG-Lipid (AUC:0.847, C:1.0)</text>
<line x1="218.3" y1="36.44" x2="241" y2="36.44" stroke="#ff9a33" stroke-width="1.0" stroke-opacity="0.55"/>
<text x="247.3" y="39.48" font-size="7.52" fill="#1a1a1a" stroke="#1a1a1a" stroke-width="0.22">DisoFLAG-Iion (AUC:0.84, C:1.0)</text>
<line x1="218.3" y1="50.86" x2="241" y2="50.86" stroke="#2fb04a" stroke-width="1.0" stroke-opacity="0.55"/>
<text x="247.3" y="53.9" font-size="7.52" fill="#1a1a1a" stroke="#1a1a1a" stroke-width="0.22">ENSHROUD-protein (AUC:0.753, C:1.0)</text>
<line x1="218.3" y1="65.28" x2="241" y2="65.28" stroke="#aac8ec" stroke-width="1.0" stroke-opacity="0.55"/>
<text x="247.3" y="68.32" font-size="7.52" fill="#1a1a1a" stroke="#1a1a1a" stroke-width="0.22">DisoFLAG-RNA (AUC:0.752, C:1.0)</text>
<line x1="218.3" y1="79.7" x2="241" y2="79.7" stroke="#a277d6" stroke-width="1.0" stroke-opacity="0.55"/>
<text x="247.3" y="82.74" font-size="7.52" fill="#1a1a1a" stroke="#1a1a1a" stroke-width="0.22">MoRFchibi_web (AUC:0.751, C:1.0)</text>
<line x1="218.3" y1="94.12" x2="241" y2="94.12" stroke="#a0685a" stroke-width="1.0" stroke-opacity="0.55"/>
<text x="247.3" y="97.16" font-size="7.52" fill="#1a1a1a" stroke="#1a1a1a" stroke-width="0.22">DeepDRPBind-protein (AUC:0.744, C:0.99)</text>
<line x1="218.3" y1="108.54" x2="241" y2="108.54" stroke="#ef82cc" stroke-width="1.0" stroke-opacity="0.55"/>
<text x="247.3" y="111.58" font-size="7.52" fill="#1a1a1a" stroke="#1a1a1a" stroke-width="0.22">MoRFchibi_light (AUC:0.74, C:1.0)</text>
<line x1="218.3" y1="122.96" x2="241" y2="122.96" stroke="#999999" stroke-width="1.0" stroke-opacity="0.55"/>
<text x="247.3" y="126" font-size="7.52" fill="#1a1a1a" stroke="#1a1a1a" stroke-width="0.22">DeepDISOBind (AUC:0.733, C:1.0)</text>
<line x1="218.3" y1="137.38" x2="241" y2="137.38" stroke="#c8c832" stroke-width="1.0" stroke-opacity="0.55"/>
<text x="247.3" y="140.42" font-size="7.52" fill="#1a1a1a" stroke="#1a1a1a" stroke-width="0.22">OPAL (AUC:0.724, C:1.0)</text>
<line x1="218.3" y1="151.8" x2="241" y2="151.8" stroke="#20c4d8" stroke-width="1.0" stroke-opacity="0.55"/>
<text x="247.3" y="154.84" font-size="7.52" fill="#1a1a1a" stroke="#1a1a1a" stroke-width="0.22">DRPBind-protein (AUC:0.721, C:1.0)</text>
<line x1="218.3" y1="166.22" x2="241" y2="166.22" stroke="#ffc61a" stroke-width="1.0" stroke-opacity="0.55"/>
<text x="247.3" y="169.26" font-size="7.52" fill="#1a1a1a" stroke="#1a1a1a" stroke-width="0.22">DisoRDPbind-protein (AUC:0.71, C:1.0)</text>
<line x1="218.3" y1="180.64" x2="241" y2="180.64" stroke="#c08ef0" stroke-width="1.0" stroke-opacity="0.55"/>
<text x="247.3" y="183.68" font-size="7.52" fill="#1a1a1a" stroke="#1a1a1a" stroke-width="0.22">ANCHOR2 (AUC:0.699, C:1.0)</text>
<line x1="218.3" y1="195.06" x2="241" y2="195.06" stroke="#4a86f0" stroke-width="1.0" stroke-opacity="0.55"/>
<text x="247.3" y="198.1" font-size="7.52" fill="#1a1a1a" stroke="#1a1a1a" stroke-width="0.22">CLIP (AUC:0.694, C:1.0)</text>
<line x1="218.3" y1="209.48" x2="241" y2="209.48" stroke="#ff8f84" stroke-width="1.0" stroke-opacity="0.55"/>
<text x="247.3" y="212.52" font-size="7.52" fill="#1a1a1a" stroke="#1a1a1a" stroke-width="0.22">DisoFLAG-DNA (AUC:0.601, C:1.0)</text>
<line x1="606" y1="5.8" x2="626" y2="5.8" stroke="#2a93d6" stroke-width="1.0" stroke-opacity="0.55"/>
<text x="632.3" y="8.85" font-size="7.55" fill="#1a1a1a" stroke="#1a1a1a" stroke-width="0.22">DisoFLAG-Protein (APS:0.563, C:1.0)</text>
<line x1="606" y1="20.42" x2="626" y2="20.42" stroke="#e33a3a" stroke-width="1.0" stroke-opacity="0.55"/>
<text x="632.3" y="23.47" font-size="7.55" fill="#1a1a1a" stroke="#1a1a1a" stroke-width="0.22">DisoFLAG-Lipid (APS:0.498, C:1.0)</text>
<line x1="606" y1="35.04" x2="626" y2="35.04" stroke="#ff9a33" stroke-width="1.0" stroke-opacity="0.55"/>
<text x="632.3" y="38.09" font-size="7.55" fill="#1a1a1a" stroke="#1a1a1a" stroke-width="0.22">DisoFLAG-Ion (APS:0.426, C:1.0)</text>
<line x1="606" y1="49.66" x2="626" y2="49.66" stroke="#2fb04a" stroke-width="1.0" stroke-opacity="0.55"/>
<text x="632.3" y="52.71" font-size="7.55" fill="#1a1a1a" stroke="#1a1a1a" stroke-width="0.22">DisoFLAG-RNA (APS:0.285, C:1.0)</text>
<line x1="606" y1="64.28" x2="626" y2="64.28" stroke="#aac8ec" stroke-width="1.0" stroke-opacity="0.55"/>
<text x="632.3" y="67.33" font-size="7.55" fill="#1a1a1a" stroke="#1a1a1a" stroke-width="0.22">DeepDRPBind-protein (APS:0.285, C:0.99)</text>
<line x1="606" y1="78.9" x2="626" y2="78.9" stroke="#a277d6" stroke-width="1.0" stroke-opacity="0.55"/>
<text x="632.3" y="81.95" font-size="7.55" fill="#1a1a1a" stroke="#1a1a1a" stroke-width="0.22">MoRFchibi_web (APS:0.284, C:1.0)</text>
<line x1="606" y1="93.52" x2="626" y2="93.52" stroke="#a0685a" stroke-width="1.0" stroke-opacity="0.55"/>
<text x="632.3" y="96.57" font-size="7.55" fill="#1a1a1a" stroke="#1a1a1a" stroke-width="0.22">OPAL (APS:0.284, C:1.0)</text>
<line x1="606" y1="108.14" x2="626" y2="108.14" stroke="#ef82cc" stroke-width="1.0" stroke-opacity="0.55"/>
<text x="632.3" y="111.19" font-size="7.55" fill="#1a1a1a" stroke="#1a1a1a" stroke-width="0.22">MoRFchibi_light (APS:0.272, C:1.0)</text>
<line x1="606" y1="122.76" x2="626" y2="122.76" stroke="#999999" stroke-width="1.0" stroke-opacity="0.55"/>
<text x="632.3" y="125.81" font-size="7.55" fill="#1a1a1a" stroke="#1a1a1a" stroke-width="0.22">AlphaFold_binding (APS:0.27, C:0.79)</text>
<line x1="606" y1="137.38" x2="626" y2="137.38" stroke="#c8c832" stroke-width="1.0" stroke-opacity="0.55"/>
<text x="632.3" y="140.43" font-size="7.55" fill="#1a1a1a" stroke="#1a1a1a" stroke-width="0.22">CLIP (APS:0.252, C:1.0)</text>
<line x1="606" y1="152" x2="626" y2="152" stroke="#20c4d8" stroke-width="1.0" stroke-opacity="0.55"/>
<text x="632.3" y="155.05" font-size="7.55" fill="#1a1a1a" stroke="#1a1a1a" stroke-width="0.22">ENSHROUD-protein (APS:0.252, C:1.0)</text>
<line x1="606" y1="166.62" x2="626" y2="166.62" stroke="#ffc61a" stroke-width="1.0" stroke-opacity="0.55"/>
<text x="632.3" y="169.67" font-size="7.55" fill="#1a1a1a" stroke="#1a1a1a" stroke-width="0.22">DRPBind-protein (APS:0.249, C:1.0)</text>
<line x1="606" y1="181.24" x2="626" y2="181.24" stroke="#c08ef0" stroke-width="1.0" stroke-opacity="0.55"/>
<text x="632.3" y="184.29" font-size="7.55" fill="#1a1a1a" stroke="#1a1a1a" stroke-width="0.22">DisoRDPbind-protein (APS:0.227, C:1.0)</text>
<line x1="606" y1="195.86" x2="626" y2="195.86" stroke="#4a86f0" stroke-width="1.0" stroke-opacity="0.55"/>
<text x="632.3" y="198.91" font-size="7.55" fill="#1a1a1a" stroke="#1a1a1a" stroke-width="0.22">DeepDISOBind (APS:0.217, C:1.0)</text>
<line x1="606" y1="210.48" x2="626" y2="210.48" stroke="#ff8f84" stroke-width="1.0" stroke-opacity="0.55"/>
<text x="632.3" y="213.53" font-size="7.55" fill="#1a1a1a" stroke="#1a1a1a" stroke-width="0.22">DisoFLAG_DNA (APS:0.175, C:1.0)</text>
<line x1="217.5" y1="247.3" x2="240.3" y2="247.3" stroke="#2a93d6" stroke-width="1.0" stroke-opacity="0.55"/>
<text x="246.6" y="250.46" font-size="7.85" fill="#1a1a1a" stroke="#1a1a1a" stroke-width="0.22">DisoFLAG-Linker (AUC:0.8, C:1.0)</text>
<line x1="217.5" y1="262.54" x2="240.3" y2="262.54" stroke="#e33a3a" stroke-width="1.0" stroke-opacity="0.55"/>
<text x="246.6" y="265.7" font-size="7.85" fill="#1a1a1a" stroke="#1a1a1a" stroke-width="0.22">SPOT-Disorder2 (AUC:0.782, C:0.78)</text>
<line x1="217.5" y1="277.78" x2="240.3" y2="277.78" stroke="#ff9a33" stroke-width="1.0" stroke-opacity="0.55"/>
<text x="246.6" y="280.94" font-size="7.85" fill="#1a1a1a" stroke="#1a1a1a" stroke-width="0.22">AlphaFold-rsa (AUC:0.77, C:0.93)</text>
<line x1="217.5" y1="293.02" x2="240.3" y2="293.02" stroke="#2fb04a" stroke-width="1.0" stroke-opacity="0.55"/>
<text x="246.6" y="296.18" font-size="7.85" fill="#1a1a1a" stroke="#1a1a1a" stroke-width="0.22">SETH-0 (AUC:0.77, C:1.0)</text>
<line x1="217.5" y1="308.26" x2="240.3" y2="308.26" stroke="#aac8ec" stroke-width="1.0" stroke-opacity="0.55"/>
<text x="246.6" y="311.42" font-size="7.85" fill="#1a1a1a" stroke="#1a1a1a" stroke-width="0.22">SETH-1 (AUC:0.762, C:1.0)</text>
<line x1="217.5" y1="323.5" x2="240.3" y2="323.5" stroke="#a277d6" stroke-width="1.0" stroke-opacity="0.55"/>
<text x="246.6" y="326.66" font-size="7.85" fill="#1a1a1a" stroke="#1a1a1a" stroke-width="0.22">Dispredict3 (AUC:0.744, C:1.0)</text>
<line x1="217.5" y1="338.74" x2="240.3" y2="338.74" stroke="#a0685a" stroke-width="1.0" stroke-opacity="0.55"/>
<text x="246.6" y="341.9" font-size="7.85" fill="#1a1a1a" stroke="#1a1a1a" stroke-width="0.22">AUCpreD (AUC:0.734, C:1.0)</text>
<line x1="217.5" y1="353.98" x2="240.3" y2="353.98" stroke="#ef82cc" stroke-width="1.0" stroke-opacity="0.55"/>
<text x="246.6" y="357.14" font-size="7.85" fill="#1a1a1a" stroke="#1a1a1a" stroke-width="0.22">APOD (AUC:0.729, C:1.0)</text>
<line x1="217.5" y1="369.22" x2="240.3" y2="369.22" stroke="#999999" stroke-width="1.0" stroke-opacity="0.55"/>
<text x="246.6" y="372.38" font-size="7.85" fill="#1a1a1a" stroke="#1a1a1a" stroke-width="0.22">PredIDR-short (AUC:0.728, C:1.0)</text>
<line x1="217.5" y1="384.46" x2="240.3" y2="384.46" stroke="#c8c832" stroke-width="1.0" stroke-opacity="0.55"/>
<text x="246.6" y="387.62" font-size="7.85" fill="#1a1a1a" stroke="#1a1a1a" stroke-width="0.22">PredIDR-long (AUC:0.722, C:1.0)</text>
<line x1="217.5" y1="399.7" x2="240.3" y2="399.7" stroke="#20c4d8" stroke-width="1.0" stroke-opacity="0.55"/>
<text x="246.6" y="402.86" font-size="7.85" fill="#1a1a1a" stroke="#1a1a1a" stroke-width="0.22">PreDisorder (AUC:0.718, C:0.97)</text>
<line x1="607.5" y1="248.3" x2="625.5" y2="248.3" stroke="#2a93d6" stroke-width="1.0" stroke-opacity="0.55"/>
<text x="631.7" y="251.44" font-size="7.8" fill="#1a1a1a" stroke="#1a1a1a" stroke-width="0.22">DisoFLAG-Linker (APS:0.197, C:1.0)</text>
<line x1="607.5" y1="263.35" x2="625.5" y2="263.35" stroke="#e33a3a" stroke-width="1.0" stroke-opacity="0.55"/>
<text x="631.7" y="266.49" font-size="7.8" fill="#1a1a1a" stroke="#1a1a1a" stroke-width="0.22">SETH-0 (APS:0.158, C:1.0)</text>
<line x1="607.5" y1="278.4" x2="625.5" y2="278.4" stroke="#ff9a33" stroke-width="1.0" stroke-opacity="0.55"/>
<text x="631.7" y="281.54" font-size="7.8" fill="#1a1a1a" stroke="#1a1a1a" stroke-width="0.22">PreDisorder (APS:0.156, C:0.97)</text>
<line x1="607.5" y1="293.45" x2="625.5" y2="293.45" stroke="#2fb04a" stroke-width="1.0" stroke-opacity="0.55"/>
<text x="631.7" y="296.59" font-size="7.8" fill="#1a1a1a" stroke="#1a1a1a" stroke-width="0.22">SPOT-Disorder2 (APS:0.153, C:0.78)</text>
<line x1="607.5" y1="308.5" x2="625.5" y2="308.5" stroke="#aac8ec" stroke-width="1.0" stroke-opacity="0.55"/>
<text x="631.7" y="311.64" font-size="7.8" fill="#1a1a1a" stroke="#1a1a1a" stroke-width="0.22">Dispredict3 (APS:0.148, C:1.0)</text>
<line x1="607.5" y1="323.55" x2="625.5" y2="323.55" stroke="#a277d6" stroke-width="1.0" stroke-opacity="0.55"/>
<text x="631.7" y="326.69" font-size="7.8" fill="#1a1a1a" stroke="#1a1a1a" stroke-width="0.22">flDPnn (APS:0.138, C:1.0)</text>
<line x1="607.5" y1="338.6" x2="625.5" y2="338.6" stroke="#a0685a" stroke-width="1.0" stroke-opacity="0.55"/>
<text x="631.7" y="341.74" font-size="7.8" fill="#1a1a1a" stroke="#1a1a1a" stroke-width="0.22">flDPlr2 (APS:0.136, C:1.0)</text>
<line x1="607.5" y1="353.65" x2="625.5" y2="353.65" stroke="#ef82cc" stroke-width="1.0" stroke-opacity="0.55"/>
<text x="631.7" y="356.79" font-size="7.8" fill="#1a1a1a" stroke="#1a1a1a" stroke-width="0.22">APOD (APS:0.133, C:1.0)</text>
<line x1="607.5" y1="368.7" x2="625.5" y2="368.7" stroke="#999999" stroke-width="1.0" stroke-opacity="0.55"/>
<text x="631.7" y="371.84" font-size="7.8" fill="#1a1a1a" stroke="#1a1a1a" stroke-width="0.22">SETH-1 (APS:0.133, C:1.0)</text>
<line x1="607.5" y1="383.75" x2="625.5" y2="383.75" stroke="#c8c832" stroke-width="1.0" stroke-opacity="0.55"/>
<text x="631.7" y="386.89" font-size="7.8" fill="#1a1a1a" stroke="#1a1a1a" stroke-width="0.22">PredIDR-short (APS:0.119, C:1.0)</text>
<line x1="607.5" y1="398.8" x2="625.5" y2="398.8" stroke="#20c4d8" stroke-width="1.0" stroke-opacity="0.55"/>
<text x="631.7" y="401.94" font-size="7.8" fill="#1a1a1a" stroke="#1a1a1a" stroke-width="0.22">AUCpreD (APS:0.117, C:1.0)</text>
<text x="0.6" y="10" font-size="15" fill="#000">a</text>
<text x="396.6" y="11.5" font-size="15" fill="#000">b</text>
<text x="1.0" y="228.7" font-size="15.5" fill="#000">c</text>
<text x="398.3" y="229.6" font-size="15" fill="#000">d</text>
</svg>
</body></html>
